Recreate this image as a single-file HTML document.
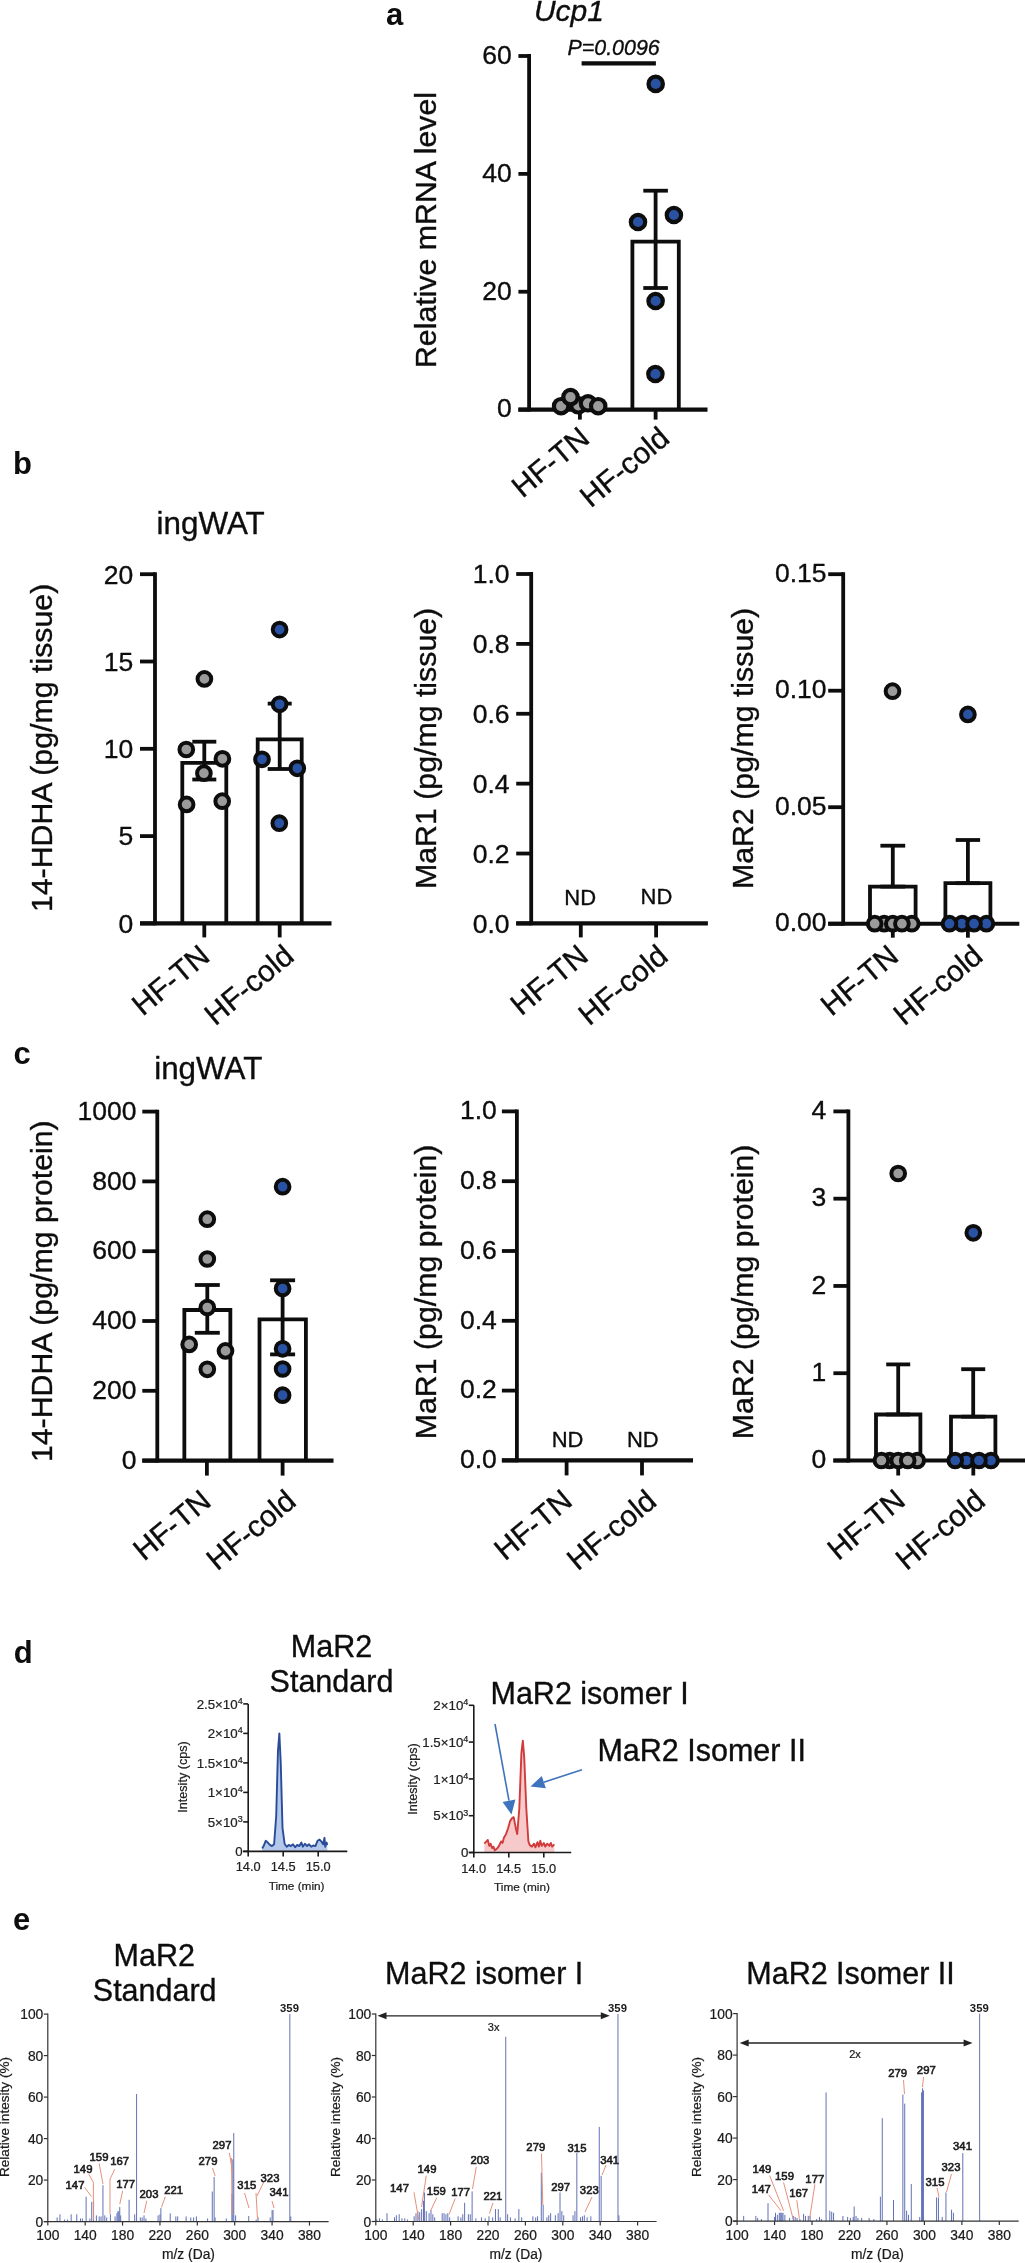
<!DOCTYPE html>
<html><head><meta charset="utf-8"><title>Figure</title>
<style>
html,body{margin:0;padding:0;background:#fff;}
body{width:1025px;height:2263px;overflow:hidden;}
svg{display:block;will-change:transform;}
</style></head><body>
<svg width="1025" height="2263" viewBox="0 0 1025 2263" font-family='"Liberation Sans", sans-serif'>
<rect width="1025" height="2263" fill="#fff"/>
<text x="386" y="25.3" font-size="31" text-anchor="start" font-weight="bold" fill="#0d0d0d">a</text>
<text x="533.9" y="20.8" font-size="30" text-anchor="start" font-style="italic" stroke="#0d0d0d" stroke-width="0.35" fill="#0d0d0d">Ucp1</text>
<text x="567.5" y="54.8" font-size="21.4" text-anchor="start" font-style="italic" stroke="#0d0d0d" stroke-width="0.35" fill="#0d0d0d">P=0.0096</text>
<line x1="581.6" y1="63.3" x2="655.9" y2="63.3" stroke="#0d0d0d" stroke-width="4.2" stroke-linecap="butt"/>
<line x1="529.1" y1="54.1" x2="529.1" y2="411.5" stroke="#0d0d0d" stroke-width="3.8" stroke-linecap="butt"/>
<line x1="518.4" y1="409.6" x2="529.1" y2="409.6" stroke="#0d0d0d" stroke-width="3.8" stroke-linecap="butt"/>
<text x="511.7" y="417.4" font-size="26.5" text-anchor="end" stroke="#0d0d0d" stroke-width="0.35" fill="#0d0d0d">0</text>
<line x1="518.4" y1="291.73" x2="529.1" y2="291.73" stroke="#0d0d0d" stroke-width="3.8" stroke-linecap="butt"/>
<text x="511.7" y="299.53" font-size="26.5" text-anchor="end" stroke="#0d0d0d" stroke-width="0.35" fill="#0d0d0d">20</text>
<line x1="518.4" y1="173.87" x2="529.1" y2="173.87" stroke="#0d0d0d" stroke-width="3.8" stroke-linecap="butt"/>
<text x="511.7" y="181.67" font-size="26.5" text-anchor="end" stroke="#0d0d0d" stroke-width="0.35" fill="#0d0d0d">40</text>
<line x1="518.4" y1="56" x2="529.1" y2="56" stroke="#0d0d0d" stroke-width="3.8" stroke-linecap="butt"/>
<text x="511.7" y="63.8" font-size="26.5" text-anchor="end" stroke="#0d0d0d" stroke-width="0.35" fill="#0d0d0d">60</text>
<line x1="518.4" y1="409.6" x2="707.5" y2="409.6" stroke="#0d0d0d" stroke-width="4.1" stroke-linecap="butt"/>
<line x1="579.9" y1="409.6" x2="579.9" y2="419.6" stroke="#0d0d0d" stroke-width="3.8" stroke-linecap="butt"/>
<line x1="655.6" y1="409.6" x2="655.6" y2="419.6" stroke="#0d0d0d" stroke-width="3.8" stroke-linecap="butt"/>
<path d="M632.4 409.6 V241.6 H678.8 V409.6" fill="none" stroke="#0d0d0d" stroke-width="3.8" stroke-linejoin="miter"/>
<path d="M556.7 409.6 V404.5 H603.1 V409.6" fill="none" stroke="#0d0d0d" stroke-width="3.8" stroke-linejoin="miter"/>
<line x1="655.6" y1="190.7" x2="655.6" y2="288" stroke="#0d0d0d" stroke-width="3.8" stroke-linecap="butt"/>
<line x1="643.3" y1="190.7" x2="667.9" y2="190.7" stroke="#0d0d0d" stroke-width="3.8" stroke-linecap="butt"/>
<line x1="643.3" y1="288" x2="667.9" y2="288" stroke="#0d0d0d" stroke-width="3.8" stroke-linecap="butt"/>
<circle cx="578.3" cy="405.3" r="7.2" fill="#9b9b9b" stroke="#0d0d0d" stroke-width="4.2"/>
<circle cx="561.1" cy="406.2" r="7.2" fill="#9b9b9b" stroke="#0d0d0d" stroke-width="4.2"/>
<circle cx="570.5" cy="397.1" r="7.2" fill="#9b9b9b" stroke="#0d0d0d" stroke-width="4.2"/>
<circle cx="588" cy="403.3" r="7.2" fill="#9b9b9b" stroke="#0d0d0d" stroke-width="4.2"/>
<circle cx="598.2" cy="406.2" r="7.2" fill="#9b9b9b" stroke="#0d0d0d" stroke-width="4.2"/>
<circle cx="655.7" cy="83.9" r="7.2" fill="#2a52a3" stroke="#0d0d0d" stroke-width="4.2"/>
<circle cx="638" cy="222" r="7.2" fill="#2a52a3" stroke="#0d0d0d" stroke-width="4.2"/>
<circle cx="673.9" cy="215" r="7.2" fill="#2a52a3" stroke="#0d0d0d" stroke-width="4.2"/>
<circle cx="655.6" cy="301" r="7.2" fill="#2a52a3" stroke="#0d0d0d" stroke-width="4.2"/>
<circle cx="655.4" cy="374" r="7.2" fill="#2a52a3" stroke="#0d0d0d" stroke-width="4.2"/>
<text x="436.3" y="230" font-size="30.3" text-anchor="middle" stroke="#0d0d0d" stroke-width="0.35" fill="#0d0d0d" transform="rotate(-90 436.3 230)">Relative mRNA level</text>
<text x="591.45" y="440.95" font-size="30" text-anchor="end" stroke="#0d0d0d" stroke-width="0.35" fill="#0d0d0d" transform="rotate(-40 591.45 440.95)">HF-TN</text>
<text x="671.2" y="441.05" font-size="30" text-anchor="end" stroke="#0d0d0d" stroke-width="0.35" fill="#0d0d0d" transform="rotate(-40 671.2 441.05)">HF-cold</text>
<text x="13.1" y="474.1" font-size="31" text-anchor="start" font-weight="bold" fill="#0d0d0d">b</text>
<text x="156.6" y="534.3" font-size="31.4" text-anchor="start" stroke="#0d0d0d" stroke-width="0.35" fill="#0d0d0d">ingWAT</text>
<line x1="155" y1="572.3" x2="155" y2="925.3" stroke="#0d0d0d" stroke-width="3.8" stroke-linecap="butt"/>
<line x1="140" y1="923.4" x2="155" y2="923.4" stroke="#0d0d0d" stroke-width="3.8" stroke-linecap="butt"/>
<text x="133.3" y="932.7" font-size="26.5" text-anchor="end" stroke="#0d0d0d" stroke-width="0.35" fill="#0d0d0d">0</text>
<line x1="140" y1="836.1" x2="155" y2="836.1" stroke="#0d0d0d" stroke-width="3.8" stroke-linecap="butt"/>
<text x="133.3" y="845.4" font-size="26.5" text-anchor="end" stroke="#0d0d0d" stroke-width="0.35" fill="#0d0d0d">5</text>
<line x1="140" y1="748.8" x2="155" y2="748.8" stroke="#0d0d0d" stroke-width="3.8" stroke-linecap="butt"/>
<text x="133.3" y="758.1" font-size="26.5" text-anchor="end" stroke="#0d0d0d" stroke-width="0.35" fill="#0d0d0d">10</text>
<line x1="140" y1="661.5" x2="155" y2="661.5" stroke="#0d0d0d" stroke-width="3.8" stroke-linecap="butt"/>
<text x="133.3" y="670.8" font-size="26.5" text-anchor="end" stroke="#0d0d0d" stroke-width="0.35" fill="#0d0d0d">15</text>
<line x1="140" y1="574.2" x2="155" y2="574.2" stroke="#0d0d0d" stroke-width="3.8" stroke-linecap="butt"/>
<text x="133.3" y="583.5" font-size="26.5" text-anchor="end" stroke="#0d0d0d" stroke-width="0.35" fill="#0d0d0d">20</text>
<line x1="140" y1="923.4" x2="331.5" y2="923.4" stroke="#0d0d0d" stroke-width="4.1" stroke-linecap="butt"/>
<line x1="204.3" y1="923.4" x2="204.3" y2="937.4" stroke="#0d0d0d" stroke-width="3.8" stroke-linecap="butt"/>
<line x1="279.7" y1="923.4" x2="279.7" y2="937.4" stroke="#0d0d0d" stroke-width="3.8" stroke-linecap="butt"/>
<path d="M182.3 923.4 V762.9 H226.3 V923.4" fill="none" stroke="#0d0d0d" stroke-width="3.8" stroke-linejoin="miter"/>
<path d="M257.7 923.4 V739.4 H301.7 V923.4" fill="none" stroke="#0d0d0d" stroke-width="3.8" stroke-linejoin="miter"/>
<line x1="204.3" y1="741.7" x2="204.3" y2="779.5" stroke="#0d0d0d" stroke-width="3.8" stroke-linecap="butt"/>
<line x1="192.3" y1="741.7" x2="216.3" y2="741.7" stroke="#0d0d0d" stroke-width="3.8" stroke-linecap="butt"/>
<line x1="192.3" y1="779.5" x2="216.3" y2="779.5" stroke="#0d0d0d" stroke-width="3.8" stroke-linecap="butt"/>
<line x1="279.7" y1="703.6" x2="279.7" y2="769" stroke="#0d0d0d" stroke-width="3.8" stroke-linecap="butt"/>
<line x1="267.7" y1="703.6" x2="291.7" y2="703.6" stroke="#0d0d0d" stroke-width="3.8" stroke-linecap="butt"/>
<line x1="267.7" y1="769" x2="291.7" y2="769" stroke="#0d0d0d" stroke-width="3.8" stroke-linecap="butt"/>
<circle cx="204.4" cy="678.9" r="6.85" fill="#9b9b9b" stroke="#0d0d0d" stroke-width="4"/>
<circle cx="186.3" cy="749.5" r="6.85" fill="#9b9b9b" stroke="#0d0d0d" stroke-width="4"/>
<circle cx="222.4" cy="758.8" r="6.85" fill="#9b9b9b" stroke="#0d0d0d" stroke-width="4"/>
<circle cx="203.9" cy="773.2" r="6.85" fill="#9b9b9b" stroke="#0d0d0d" stroke-width="4"/>
<circle cx="186.6" cy="804.4" r="6.85" fill="#9b9b9b" stroke="#0d0d0d" stroke-width="4"/>
<circle cx="222.2" cy="801.2" r="6.85" fill="#9b9b9b" stroke="#0d0d0d" stroke-width="4"/>
<circle cx="279.6" cy="629.6" r="6.85" fill="#2a52a3" stroke="#0d0d0d" stroke-width="4"/>
<circle cx="279.6" cy="704.3" r="6.85" fill="#2a52a3" stroke="#0d0d0d" stroke-width="4"/>
<circle cx="262" cy="759.3" r="6.85" fill="#2a52a3" stroke="#0d0d0d" stroke-width="4"/>
<circle cx="297.3" cy="768.3" r="6.85" fill="#2a52a3" stroke="#0d0d0d" stroke-width="4"/>
<circle cx="279.3" cy="823.2" r="6.85" fill="#2a52a3" stroke="#0d0d0d" stroke-width="4"/>
<text x="52.5" y="747.95" font-size="30.3" text-anchor="middle" stroke="#0d0d0d" stroke-width="0.35" fill="#0d0d0d" transform="rotate(-90 52.5 747.95)">14-HDHA (pg/mg tissue)</text>
<text x="211.7" y="959" font-size="30" text-anchor="end" stroke="#0d0d0d" stroke-width="0.35" fill="#0d0d0d" transform="rotate(-40 211.7 959)">HF-TN</text>
<text x="295.75" y="958.95" font-size="30" text-anchor="end" stroke="#0d0d0d" stroke-width="0.35" fill="#0d0d0d" transform="rotate(-40 295.75 958.95)">HF-cold</text>
<line x1="531.2" y1="572.1" x2="531.2" y2="925.3" stroke="#0d0d0d" stroke-width="3.8" stroke-linecap="butt"/>
<line x1="516.2" y1="923.4" x2="531.2" y2="923.4" stroke="#0d0d0d" stroke-width="3.8" stroke-linecap="butt"/>
<text x="509.5" y="932.7" font-size="26.5" text-anchor="end" stroke="#0d0d0d" stroke-width="0.35" fill="#0d0d0d">0.0</text>
<line x1="516.2" y1="853.52" x2="531.2" y2="853.52" stroke="#0d0d0d" stroke-width="3.8" stroke-linecap="butt"/>
<text x="509.5" y="862.82" font-size="26.5" text-anchor="end" stroke="#0d0d0d" stroke-width="0.35" fill="#0d0d0d">0.2</text>
<line x1="516.2" y1="783.64" x2="531.2" y2="783.64" stroke="#0d0d0d" stroke-width="3.8" stroke-linecap="butt"/>
<text x="509.5" y="792.94" font-size="26.5" text-anchor="end" stroke="#0d0d0d" stroke-width="0.35" fill="#0d0d0d">0.4</text>
<line x1="516.2" y1="713.76" x2="531.2" y2="713.76" stroke="#0d0d0d" stroke-width="3.8" stroke-linecap="butt"/>
<text x="509.5" y="723.06" font-size="26.5" text-anchor="end" stroke="#0d0d0d" stroke-width="0.35" fill="#0d0d0d">0.6</text>
<line x1="516.2" y1="643.88" x2="531.2" y2="643.88" stroke="#0d0d0d" stroke-width="3.8" stroke-linecap="butt"/>
<text x="509.5" y="653.18" font-size="26.5" text-anchor="end" stroke="#0d0d0d" stroke-width="0.35" fill="#0d0d0d">0.8</text>
<line x1="516.2" y1="574" x2="531.2" y2="574" stroke="#0d0d0d" stroke-width="3.8" stroke-linecap="butt"/>
<text x="509.5" y="583.3" font-size="26.5" text-anchor="end" stroke="#0d0d0d" stroke-width="0.35" fill="#0d0d0d">1.0</text>
<line x1="516.2" y1="923.4" x2="707.9" y2="923.4" stroke="#0d0d0d" stroke-width="4.1" stroke-linecap="butt"/>
<line x1="580.8" y1="923.4" x2="580.8" y2="937.4" stroke="#0d0d0d" stroke-width="3.8" stroke-linecap="butt"/>
<line x1="656.1" y1="923.4" x2="656.1" y2="937.4" stroke="#0d0d0d" stroke-width="3.8" stroke-linecap="butt"/>
<text x="580.2" y="904.5" font-size="22" text-anchor="middle" stroke="#0d0d0d" stroke-width="0.35" fill="#0d0d0d">ND</text>
<text x="656.5" y="904" font-size="22" text-anchor="middle" stroke="#0d0d0d" stroke-width="0.35" fill="#0d0d0d">ND</text>
<text x="436" y="748.4" font-size="30.3" text-anchor="middle" stroke="#0d0d0d" stroke-width="0.35" fill="#0d0d0d" transform="rotate(-90 436 748.4)">MaR1 (pg/mg tissue)</text>
<text x="590.1" y="958.75" font-size="30" text-anchor="end" stroke="#0d0d0d" stroke-width="0.35" fill="#0d0d0d" transform="rotate(-40 590.1 958.75)">HF-TN</text>
<text x="669.75" y="958.95" font-size="30" text-anchor="end" stroke="#0d0d0d" stroke-width="0.35" fill="#0d0d0d" transform="rotate(-40 669.75 958.95)">HF-cold</text>
<line x1="843.2" y1="572.3" x2="843.2" y2="925.6" stroke="#0d0d0d" stroke-width="3.8" stroke-linecap="butt"/>
<line x1="828.2" y1="923.7" x2="843.2" y2="923.7" stroke="#0d0d0d" stroke-width="3.8" stroke-linecap="butt"/>
<text x="826.6" y="931" font-size="26.5" text-anchor="end" stroke="#0d0d0d" stroke-width="0.35" fill="#0d0d0d">0.00</text>
<line x1="828.2" y1="807.2" x2="843.2" y2="807.2" stroke="#0d0d0d" stroke-width="3.8" stroke-linecap="butt"/>
<text x="826.6" y="814.5" font-size="26.5" text-anchor="end" stroke="#0d0d0d" stroke-width="0.35" fill="#0d0d0d">0.05</text>
<line x1="828.2" y1="690.7" x2="843.2" y2="690.7" stroke="#0d0d0d" stroke-width="3.8" stroke-linecap="butt"/>
<text x="826.6" y="698" font-size="26.5" text-anchor="end" stroke="#0d0d0d" stroke-width="0.35" fill="#0d0d0d">0.10</text>
<line x1="828.2" y1="574.2" x2="843.2" y2="574.2" stroke="#0d0d0d" stroke-width="3.8" stroke-linecap="butt"/>
<text x="826.6" y="581.5" font-size="26.5" text-anchor="end" stroke="#0d0d0d" stroke-width="0.35" fill="#0d0d0d">0.15</text>
<line x1="828.2" y1="923.7" x2="1019.3" y2="923.7" stroke="#0d0d0d" stroke-width="4.1" stroke-linecap="butt"/>
<line x1="892.8" y1="923.7" x2="892.8" y2="937.7" stroke="#0d0d0d" stroke-width="3.8" stroke-linecap="butt"/>
<line x1="967.9" y1="923.7" x2="967.9" y2="937.7" stroke="#0d0d0d" stroke-width="3.8" stroke-linecap="butt"/>
<path d="M870 923.7 V886.6 H915.6 V923.7" fill="none" stroke="#0d0d0d" stroke-width="3.8" stroke-linejoin="miter"/>
<path d="M945.4 923.7 V883.2 H990.4 V923.7" fill="none" stroke="#0d0d0d" stroke-width="3.8" stroke-linejoin="miter"/>
<line x1="892.8" y1="845.7" x2="892.8" y2="886.6" stroke="#0d0d0d" stroke-width="3.8" stroke-linecap="butt"/>
<line x1="880.4" y1="845.7" x2="905.2" y2="845.7" stroke="#0d0d0d" stroke-width="3.8" stroke-linecap="butt"/>
<line x1="880.4" y1="886.6" x2="905.2" y2="886.6" stroke="#0d0d0d" stroke-width="3.8" stroke-linecap="butt"/>
<line x1="967.9" y1="840" x2="967.9" y2="883.2" stroke="#0d0d0d" stroke-width="3.8" stroke-linecap="butt"/>
<line x1="955.7" y1="840" x2="980.1" y2="840" stroke="#0d0d0d" stroke-width="3.8" stroke-linecap="butt"/>
<line x1="955.7" y1="883.2" x2="980.1" y2="883.2" stroke="#0d0d0d" stroke-width="3.8" stroke-linecap="butt"/>
<circle cx="884.2" cy="923.7" r="6.85" fill="#9b9b9b" stroke="#0d0d0d" stroke-width="4"/>
<circle cx="911.8" cy="923.7" r="6.85" fill="#9b9b9b" stroke="#0d0d0d" stroke-width="4"/>
<circle cx="892.8" cy="923.7" r="6.85" fill="#9b9b9b" stroke="#0d0d0d" stroke-width="4"/>
<circle cx="874.7" cy="923.7" r="6.85" fill="#9b9b9b" stroke="#0d0d0d" stroke-width="4"/>
<circle cx="901.9" cy="923.7" r="6.85" fill="#9b9b9b" stroke="#0d0d0d" stroke-width="4"/>
<circle cx="892.5" cy="691.2" r="6.85" fill="#9b9b9b" stroke="#0d0d0d" stroke-width="4"/>
<circle cx="961.9" cy="923.7" r="6.85" fill="#2a52a3" stroke="#0d0d0d" stroke-width="4"/>
<circle cx="986.4" cy="923.7" r="6.85" fill="#2a52a3" stroke="#0d0d0d" stroke-width="4"/>
<circle cx="949.5" cy="923.7" r="6.85" fill="#2a52a3" stroke="#0d0d0d" stroke-width="4"/>
<circle cx="974" cy="923.7" r="6.85" fill="#2a52a3" stroke="#0d0d0d" stroke-width="4"/>
<circle cx="967.9" cy="714.4" r="6.85" fill="#2a52a3" stroke="#0d0d0d" stroke-width="4"/>
<text x="752.8" y="748.4" font-size="30.3" text-anchor="middle" stroke="#0d0d0d" stroke-width="0.35" fill="#0d0d0d" transform="rotate(-90 752.8 748.4)">MaR2 (pg/mg tissue)</text>
<text x="900.4" y="959.05" font-size="30" text-anchor="end" stroke="#0d0d0d" stroke-width="0.35" fill="#0d0d0d" transform="rotate(-40 900.4 959.05)">HF-TN</text>
<text x="984.6" y="959.1" font-size="30" text-anchor="end" stroke="#0d0d0d" stroke-width="0.35" fill="#0d0d0d" transform="rotate(-40 984.6 959.1)">HF-cold</text>
<text x="13.6" y="1063.6" font-size="31" text-anchor="start" font-weight="bold" fill="#0d0d0d">c</text>
<text x="154.2" y="1079.3" font-size="31.4" text-anchor="start" stroke="#0d0d0d" stroke-width="0.35" fill="#0d0d0d">ingWAT</text>
<line x1="157.3" y1="1109.7" x2="157.3" y2="1462.5" stroke="#0d0d0d" stroke-width="3.8" stroke-linecap="butt"/>
<line x1="142.3" y1="1460.6" x2="157.3" y2="1460.6" stroke="#0d0d0d" stroke-width="3.8" stroke-linecap="butt"/>
<text x="136.4" y="1468.8" font-size="26.5" text-anchor="end" stroke="#0d0d0d" stroke-width="0.35" fill="#0d0d0d">0</text>
<line x1="142.3" y1="1390.8" x2="157.3" y2="1390.8" stroke="#0d0d0d" stroke-width="3.8" stroke-linecap="butt"/>
<text x="136.4" y="1399" font-size="26.5" text-anchor="end" stroke="#0d0d0d" stroke-width="0.35" fill="#0d0d0d">200</text>
<line x1="142.3" y1="1321" x2="157.3" y2="1321" stroke="#0d0d0d" stroke-width="3.8" stroke-linecap="butt"/>
<text x="136.4" y="1329.2" font-size="26.5" text-anchor="end" stroke="#0d0d0d" stroke-width="0.35" fill="#0d0d0d">400</text>
<line x1="142.3" y1="1251.2" x2="157.3" y2="1251.2" stroke="#0d0d0d" stroke-width="3.8" stroke-linecap="butt"/>
<text x="136.4" y="1259.4" font-size="26.5" text-anchor="end" stroke="#0d0d0d" stroke-width="0.35" fill="#0d0d0d">600</text>
<line x1="142.3" y1="1181.4" x2="157.3" y2="1181.4" stroke="#0d0d0d" stroke-width="3.8" stroke-linecap="butt"/>
<text x="136.4" y="1189.6" font-size="26.5" text-anchor="end" stroke="#0d0d0d" stroke-width="0.35" fill="#0d0d0d">800</text>
<line x1="142.3" y1="1111.6" x2="157.3" y2="1111.6" stroke="#0d0d0d" stroke-width="3.8" stroke-linecap="butt"/>
<text x="136.4" y="1119.8" font-size="26.5" text-anchor="end" stroke="#0d0d0d" stroke-width="0.35" fill="#0d0d0d">1000</text>
<line x1="142.3" y1="1460.6" x2="333.5" y2="1460.6" stroke="#0d0d0d" stroke-width="4.1" stroke-linecap="butt"/>
<line x1="206.9" y1="1460.6" x2="206.9" y2="1475.6" stroke="#0d0d0d" stroke-width="3.8" stroke-linecap="butt"/>
<line x1="282.6" y1="1460.6" x2="282.6" y2="1475.6" stroke="#0d0d0d" stroke-width="3.8" stroke-linecap="butt"/>
<path d="M184.35 1460.6 V1310 H230.35 V1460.6" fill="none" stroke="#0d0d0d" stroke-width="3.8" stroke-linejoin="miter"/>
<path d="M259.5 1460.6 V1319.3 H305.9 V1460.6" fill="none" stroke="#0d0d0d" stroke-width="3.8" stroke-linejoin="miter"/>
<line x1="207.3" y1="1285" x2="207.3" y2="1332.8" stroke="#0d0d0d" stroke-width="3.8" stroke-linecap="butt"/>
<line x1="194.8" y1="1285" x2="219.8" y2="1285" stroke="#0d0d0d" stroke-width="3.8" stroke-linecap="butt"/>
<line x1="194.8" y1="1332.8" x2="219.8" y2="1332.8" stroke="#0d0d0d" stroke-width="3.8" stroke-linecap="butt"/>
<line x1="282.6" y1="1280.3" x2="282.6" y2="1354.4" stroke="#0d0d0d" stroke-width="3.8" stroke-linecap="butt"/>
<line x1="270.1" y1="1280.3" x2="295.1" y2="1280.3" stroke="#0d0d0d" stroke-width="3.8" stroke-linecap="butt"/>
<line x1="270.1" y1="1354.4" x2="295.1" y2="1354.4" stroke="#0d0d0d" stroke-width="3.8" stroke-linecap="butt"/>
<circle cx="207.3" cy="1219.2" r="6.85" fill="#9b9b9b" stroke="#0d0d0d" stroke-width="4"/>
<circle cx="207.3" cy="1259" r="6.85" fill="#9b9b9b" stroke="#0d0d0d" stroke-width="4"/>
<circle cx="207.3" cy="1307.5" r="6.85" fill="#9b9b9b" stroke="#0d0d0d" stroke-width="4"/>
<circle cx="189.2" cy="1344.4" r="6.85" fill="#9b9b9b" stroke="#0d0d0d" stroke-width="4"/>
<circle cx="225.5" cy="1350.9" r="6.85" fill="#9b9b9b" stroke="#0d0d0d" stroke-width="4"/>
<circle cx="207.3" cy="1369.3" r="6.85" fill="#9b9b9b" stroke="#0d0d0d" stroke-width="4"/>
<circle cx="282.6" cy="1186.7" r="6.85" fill="#2a52a3" stroke="#0d0d0d" stroke-width="4"/>
<circle cx="282.6" cy="1288.5" r="6.85" fill="#2a52a3" stroke="#0d0d0d" stroke-width="4"/>
<circle cx="282.6" cy="1348.8" r="6.85" fill="#2a52a3" stroke="#0d0d0d" stroke-width="4"/>
<circle cx="282.6" cy="1369" r="6.85" fill="#2a52a3" stroke="#0d0d0d" stroke-width="4"/>
<circle cx="282.6" cy="1395.2" r="6.85" fill="#2a52a3" stroke="#0d0d0d" stroke-width="4"/>
<text x="52.2" y="1291.2" font-size="30.3" text-anchor="middle" stroke="#0d0d0d" stroke-width="0.35" fill="#0d0d0d" transform="rotate(-90 52.2 1291.2)">14-HDHA (pg/mg protein)</text>
<text x="212.9" y="1504" font-size="30" text-anchor="end" stroke="#0d0d0d" stroke-width="0.35" fill="#0d0d0d" transform="rotate(-40 212.9 1504)">HF-TN</text>
<text x="297.75" y="1504.05" font-size="30" text-anchor="end" stroke="#0d0d0d" stroke-width="0.35" fill="#0d0d0d" transform="rotate(-40 297.75 1504.05)">HF-cold</text>
<line x1="516.9" y1="1109.5" x2="516.9" y2="1462.3" stroke="#0d0d0d" stroke-width="3.8" stroke-linecap="butt"/>
<line x1="501.9" y1="1460.4" x2="516.9" y2="1460.4" stroke="#0d0d0d" stroke-width="3.8" stroke-linecap="butt"/>
<text x="496.8" y="1468.2" font-size="26.5" text-anchor="end" stroke="#0d0d0d" stroke-width="0.35" fill="#0d0d0d">0.0</text>
<line x1="501.9" y1="1390.6" x2="516.9" y2="1390.6" stroke="#0d0d0d" stroke-width="3.8" stroke-linecap="butt"/>
<text x="496.8" y="1398.4" font-size="26.5" text-anchor="end" stroke="#0d0d0d" stroke-width="0.35" fill="#0d0d0d">0.2</text>
<line x1="501.9" y1="1320.8" x2="516.9" y2="1320.8" stroke="#0d0d0d" stroke-width="3.8" stroke-linecap="butt"/>
<text x="496.8" y="1328.6" font-size="26.5" text-anchor="end" stroke="#0d0d0d" stroke-width="0.35" fill="#0d0d0d">0.4</text>
<line x1="501.9" y1="1251" x2="516.9" y2="1251" stroke="#0d0d0d" stroke-width="3.8" stroke-linecap="butt"/>
<text x="496.8" y="1258.8" font-size="26.5" text-anchor="end" stroke="#0d0d0d" stroke-width="0.35" fill="#0d0d0d">0.6</text>
<line x1="501.9" y1="1181.2" x2="516.9" y2="1181.2" stroke="#0d0d0d" stroke-width="3.8" stroke-linecap="butt"/>
<text x="496.8" y="1189" font-size="26.5" text-anchor="end" stroke="#0d0d0d" stroke-width="0.35" fill="#0d0d0d">0.8</text>
<line x1="501.9" y1="1111.4" x2="516.9" y2="1111.4" stroke="#0d0d0d" stroke-width="3.8" stroke-linecap="butt"/>
<text x="496.8" y="1119.2" font-size="26.5" text-anchor="end" stroke="#0d0d0d" stroke-width="0.35" fill="#0d0d0d">1.0</text>
<line x1="501.9" y1="1460.4" x2="693" y2="1460.4" stroke="#0d0d0d" stroke-width="4.1" stroke-linecap="butt"/>
<line x1="566.6" y1="1460.4" x2="566.6" y2="1475.4" stroke="#0d0d0d" stroke-width="3.8" stroke-linecap="butt"/>
<line x1="642" y1="1460.4" x2="642" y2="1475.4" stroke="#0d0d0d" stroke-width="3.8" stroke-linecap="butt"/>
<text x="567.6" y="1447.2" font-size="22" text-anchor="middle" stroke="#0d0d0d" stroke-width="0.35" fill="#0d0d0d">ND</text>
<text x="642.8" y="1446.8" font-size="22" text-anchor="middle" stroke="#0d0d0d" stroke-width="0.35" fill="#0d0d0d">ND</text>
<text x="436" y="1291.9" font-size="30.3" text-anchor="middle" stroke="#0d0d0d" stroke-width="0.35" fill="#0d0d0d" transform="rotate(-90 436 1291.9)">MaR1 (pg/mg protein)</text>
<text x="574" y="1503.6" font-size="30" text-anchor="end" stroke="#0d0d0d" stroke-width="0.35" fill="#0d0d0d" transform="rotate(-40 574 1503.6)">HF-TN</text>
<text x="658.2" y="1503.9" font-size="30" text-anchor="end" stroke="#0d0d0d" stroke-width="0.35" fill="#0d0d0d" transform="rotate(-40 658.2 1503.9)">HF-cold</text>
<line x1="848.4" y1="1109.5" x2="848.4" y2="1462.4" stroke="#0d0d0d" stroke-width="3.8" stroke-linecap="butt"/>
<line x1="833.4" y1="1460.5" x2="848.4" y2="1460.5" stroke="#0d0d0d" stroke-width="3.8" stroke-linecap="butt"/>
<text x="826.3" y="1468.3" font-size="26.5" text-anchor="end" stroke="#0d0d0d" stroke-width="0.35" fill="#0d0d0d">0</text>
<line x1="833.4" y1="1373.22" x2="848.4" y2="1373.22" stroke="#0d0d0d" stroke-width="3.8" stroke-linecap="butt"/>
<text x="826.3" y="1381.02" font-size="26.5" text-anchor="end" stroke="#0d0d0d" stroke-width="0.35" fill="#0d0d0d">1</text>
<line x1="833.4" y1="1285.95" x2="848.4" y2="1285.95" stroke="#0d0d0d" stroke-width="3.8" stroke-linecap="butt"/>
<text x="826.3" y="1293.75" font-size="26.5" text-anchor="end" stroke="#0d0d0d" stroke-width="0.35" fill="#0d0d0d">2</text>
<line x1="833.4" y1="1198.68" x2="848.4" y2="1198.68" stroke="#0d0d0d" stroke-width="3.8" stroke-linecap="butt"/>
<text x="826.3" y="1206.48" font-size="26.5" text-anchor="end" stroke="#0d0d0d" stroke-width="0.35" fill="#0d0d0d">3</text>
<line x1="833.4" y1="1111.4" x2="848.4" y2="1111.4" stroke="#0d0d0d" stroke-width="3.8" stroke-linecap="butt"/>
<text x="826.3" y="1119.2" font-size="26.5" text-anchor="end" stroke="#0d0d0d" stroke-width="0.35" fill="#0d0d0d">4</text>
<line x1="833.4" y1="1460.5" x2="1025" y2="1460.5" stroke="#0d0d0d" stroke-width="4.1" stroke-linecap="butt"/>
<line x1="898.2" y1="1460.5" x2="898.2" y2="1475.5" stroke="#0d0d0d" stroke-width="3.8" stroke-linecap="butt"/>
<line x1="973.3" y1="1460.5" x2="973.3" y2="1475.5" stroke="#0d0d0d" stroke-width="3.8" stroke-linecap="butt"/>
<path d="M876 1460.5 V1414.5 H920.4 V1460.5" fill="none" stroke="#0d0d0d" stroke-width="3.8" stroke-linejoin="miter"/>
<path d="M951 1460.5 V1416.7 H995.4 V1460.5" fill="none" stroke="#0d0d0d" stroke-width="3.8" stroke-linejoin="miter"/>
<line x1="898.2" y1="1364.4" x2="898.2" y2="1414.5" stroke="#0d0d0d" stroke-width="3.8" stroke-linecap="butt"/>
<line x1="886.2" y1="1364.4" x2="910.2" y2="1364.4" stroke="#0d0d0d" stroke-width="3.8" stroke-linecap="butt"/>
<line x1="886.2" y1="1414.5" x2="910.2" y2="1414.5" stroke="#0d0d0d" stroke-width="3.8" stroke-linecap="butt"/>
<line x1="973.2" y1="1369.2" x2="973.2" y2="1416.7" stroke="#0d0d0d" stroke-width="3.8" stroke-linecap="butt"/>
<line x1="961.2" y1="1369.2" x2="985.2" y2="1369.2" stroke="#0d0d0d" stroke-width="3.8" stroke-linecap="butt"/>
<line x1="961.2" y1="1416.7" x2="985.2" y2="1416.7" stroke="#0d0d0d" stroke-width="3.8" stroke-linecap="butt"/>
<circle cx="889.6" cy="1460.5" r="6.85" fill="#9b9b9b" stroke="#0d0d0d" stroke-width="4"/>
<circle cx="917.2" cy="1460.5" r="6.85" fill="#9b9b9b" stroke="#0d0d0d" stroke-width="4"/>
<circle cx="898.2" cy="1460.5" r="6.85" fill="#9b9b9b" stroke="#0d0d0d" stroke-width="4"/>
<circle cx="881.4" cy="1460.5" r="6.85" fill="#9b9b9b" stroke="#0d0d0d" stroke-width="4"/>
<circle cx="907.7" cy="1460.5" r="6.85" fill="#9b9b9b" stroke="#0d0d0d" stroke-width="4"/>
<circle cx="898.2" cy="1173.5" r="6.85" fill="#9b9b9b" stroke="#0d0d0d" stroke-width="4"/>
<circle cx="966.3" cy="1460.5" r="6.85" fill="#2a52a3" stroke="#0d0d0d" stroke-width="4"/>
<circle cx="991" cy="1460.5" r="6.85" fill="#2a52a3" stroke="#0d0d0d" stroke-width="4"/>
<circle cx="955.2" cy="1460.5" r="6.85" fill="#2a52a3" stroke="#0d0d0d" stroke-width="4"/>
<circle cx="979" cy="1460.5" r="6.85" fill="#2a52a3" stroke="#0d0d0d" stroke-width="4"/>
<circle cx="973.3" cy="1232.8" r="6.85" fill="#2a52a3" stroke="#0d0d0d" stroke-width="4"/>
<text x="752.8" y="1291.9" font-size="30.3" text-anchor="middle" stroke="#0d0d0d" stroke-width="0.35" fill="#0d0d0d" transform="rotate(-90 752.8 1291.9)">MaR2 (pg/mg protein)</text>
<text x="907.1" y="1503.3" font-size="30" text-anchor="end" stroke="#0d0d0d" stroke-width="0.35" fill="#0d0d0d" transform="rotate(-40 907.1 1503.3)">HF-TN</text>
<text x="986.95" y="1503.7" font-size="30" text-anchor="end" stroke="#0d0d0d" stroke-width="0.35" fill="#0d0d0d" transform="rotate(-40 986.95 1503.7)">HF-cold</text>
<text x="13.7" y="1662.5" font-size="31" text-anchor="start" font-weight="bold" fill="#0d0d0d">d</text>
<text x="331.5" y="1656.9" font-size="30.5" text-anchor="middle" stroke="#0d0d0d" stroke-width="0.35" fill="#0d0d0d">MaR2</text>
<text x="331.5" y="1691.7" font-size="30.5" text-anchor="middle" stroke="#0d0d0d" stroke-width="0.35" fill="#0d0d0d">Standard</text>
<text x="490.5" y="1704" font-size="30.5" text-anchor="start" stroke="#0d0d0d" stroke-width="0.35" fill="#0d0d0d">MaR2 isomer I</text>
<text x="597.4" y="1760.7" font-size="30.5" text-anchor="start" stroke="#0d0d0d" stroke-width="0.35" fill="#0d0d0d">MaR2 Isomer II</text>
<path d="M262.2 1848.45 L263.6 1846.09 L265.7 1840.78 L267.8 1842.55 L269.9 1844.91 L272 1846.09 L274.1 1844.32 L276.2 1816 L277.95 1751.1 L279.35 1733.4 L280.75 1762.9 L282.5 1827.8 L284.6 1843.73 L286.7 1846.68 L288.8 1844.91 L290.9 1846.09 L293 1844.32 L295.1 1847.27 L297.2 1844.91 L299.3 1846.09 L301.4 1842.55 L302.8 1846.68 L304.9 1843.73 L307 1846.09 L309.1 1844.32 L311.2 1846.68 L313.3 1845.5 L315.4 1846.09 L317.5 1840.78 L319.6 1839.6 L321.7 1841.96 L323.1 1844.32 L324.5 1837.83 L325.2 1846.68 L326.6 1842.55 L327.3 1844.91 L327.3 1851.4 L262.2 1851.4 Z" fill="#b4c8ec" stroke="none"/>
<path d="M262.2 1848.45 L263.6 1846.09 L265.7 1840.78 L267.8 1842.55 L269.9 1844.91 L272 1846.09 L274.1 1844.32 L276.2 1816 L277.95 1751.1 L279.35 1733.4 L280.75 1762.9 L282.5 1827.8 L284.6 1843.73 L286.7 1846.68 L288.8 1844.91 L290.9 1846.09 L293 1844.32 L295.1 1847.27 L297.2 1844.91 L299.3 1846.09 L301.4 1842.55 L302.8 1846.68 L304.9 1843.73 L307 1846.09 L309.1 1844.32 L311.2 1846.68 L313.3 1845.5 L315.4 1846.09 L317.5 1840.78 L319.6 1839.6 L321.7 1841.96 L323.1 1844.32 L324.5 1837.83 L325.2 1846.68 L326.6 1842.55 L327.3 1844.91" fill="none" stroke="#2a4c98" stroke-width="1.9" stroke-linejoin="round"/>
<line x1="248.2" y1="1703.9" x2="248.2" y2="1852.2" stroke="#1a1a1a" stroke-width="1.6" stroke-linecap="butt"/>
<line x1="243.2" y1="1851.4" x2="248.2" y2="1851.4" stroke="#1a1a1a" stroke-width="1.6" stroke-linecap="butt"/>
<text x="242.7" y="1856" font-size="13.3" text-anchor="end" fill="#222" stroke="#222" stroke-width="0.22">0</text>
<line x1="243.2" y1="1821.9" x2="248.2" y2="1821.9" stroke="#1a1a1a" stroke-width="1.6" stroke-linecap="butt"/>
<text x="242.7" y="1826.5" font-size="13.3" text-anchor="end" fill="#222" stroke="#222" stroke-width="0.22">5×10<tspan dy="-4.8" font-size="9">3</tspan></text>
<line x1="243.2" y1="1792.4" x2="248.2" y2="1792.4" stroke="#1a1a1a" stroke-width="1.6" stroke-linecap="butt"/>
<text x="242.7" y="1797" font-size="13.3" text-anchor="end" fill="#222" stroke="#222" stroke-width="0.22">1×10<tspan dy="-4.8" font-size="9">4</tspan></text>
<line x1="243.2" y1="1762.9" x2="248.2" y2="1762.9" stroke="#1a1a1a" stroke-width="1.6" stroke-linecap="butt"/>
<text x="242.7" y="1767.5" font-size="13.3" text-anchor="end" fill="#222" stroke="#222" stroke-width="0.22">1.5×10<tspan dy="-4.8" font-size="9">4</tspan></text>
<line x1="243.2" y1="1733.4" x2="248.2" y2="1733.4" stroke="#1a1a1a" stroke-width="1.6" stroke-linecap="butt"/>
<text x="242.7" y="1738" font-size="13.3" text-anchor="end" fill="#222" stroke="#222" stroke-width="0.22">2×10<tspan dy="-4.8" font-size="9">4</tspan></text>
<line x1="243.2" y1="1703.9" x2="248.2" y2="1703.9" stroke="#1a1a1a" stroke-width="1.6" stroke-linecap="butt"/>
<text x="242.7" y="1708.5" font-size="13.3" text-anchor="end" fill="#222" stroke="#222" stroke-width="0.22">2.5×10<tspan dy="-4.8" font-size="9">4</tspan></text>
<line x1="243.2" y1="1851.4" x2="347.3" y2="1851.4" stroke="#1a1a1a" stroke-width="1.6" stroke-linecap="butt"/>
<line x1="248.2" y1="1851.4" x2="248.2" y2="1856.4" stroke="#1a1a1a" stroke-width="1.6" stroke-linecap="butt"/>
<text x="248.2" y="1871.4" font-size="12.8" text-anchor="middle" fill="#222" stroke="#222" stroke-width="0.22">14.0</text>
<line x1="283.2" y1="1851.4" x2="283.2" y2="1856.4" stroke="#1a1a1a" stroke-width="1.6" stroke-linecap="butt"/>
<text x="283.2" y="1871.4" font-size="12.8" text-anchor="middle" fill="#222" stroke="#222" stroke-width="0.22">14.5</text>
<line x1="318.2" y1="1851.4" x2="318.2" y2="1856.4" stroke="#1a1a1a" stroke-width="1.6" stroke-linecap="butt"/>
<text x="318.2" y="1871.4" font-size="12.8" text-anchor="middle" fill="#222" stroke="#222" stroke-width="0.22">15.0</text>
<text x="187" y="1777" font-size="12.6" text-anchor="middle" fill="#222" stroke="#222" stroke-width="0.22" transform="rotate(-90 187 1777)">Intesity (cps)</text>
<text x="296.6" y="1889.5" font-size="11.8" text-anchor="middle" fill="#222" stroke="#222" stroke-width="0.22">Time (min)</text>
<path d="M484.3 1843.67 L486.4 1841.46 L487.8 1839.99 L489.2 1845.88 L490.6 1843.67 L492 1848.08 L493.4 1846.61 L494.8 1850.29 L496.9 1848.82 L499 1845.88 L501.1 1841.46 L502.5 1842.93 L503.9 1837.78 L506 1834.1 L508.1 1828.21 L510.2 1820.85 L512.3 1817.91 L513.7 1817.17 L515.8 1828.21 L517.2 1834.1 L519.3 1808.34 L521.4 1753.14 L522.8 1740.63 L524.2 1756.82 L526.3 1808.34 L528.4 1841.46 L529.8 1845.14 L531.9 1846.61 L534 1843.67 L535.4 1847.35 L537.5 1842.2 L538.9 1846.61 L540.3 1840.72 L541.7 1845.88 L543.8 1842.93 L545.2 1846.61 L547.3 1843.67 L549.4 1845.88 L550.8 1842.93 L552.2 1846.61 L554.3 1844.4 L554.3 1852.5 L484.3 1852.5 Z" fill="#f6caca" stroke="none"/>
<path d="M484.3 1843.67 L486.4 1841.46 L487.8 1839.99 L489.2 1845.88 L490.6 1843.67 L492 1848.08 L493.4 1846.61 L494.8 1850.29 L496.9 1848.82 L499 1845.88 L501.1 1841.46 L502.5 1842.93 L503.9 1837.78 L506 1834.1 L508.1 1828.21 L510.2 1820.85 L512.3 1817.91 L513.7 1817.17 L515.8 1828.21 L517.2 1834.1 L519.3 1808.34 L521.4 1753.14 L522.8 1740.63 L524.2 1756.82 L526.3 1808.34 L528.4 1841.46 L529.8 1845.14 L531.9 1846.61 L534 1843.67 L535.4 1847.35 L537.5 1842.2 L538.9 1846.61 L540.3 1840.72 L541.7 1845.88 L543.8 1842.93 L545.2 1846.61 L547.3 1843.67 L549.4 1845.88 L550.8 1842.93 L552.2 1846.61 L554.3 1844.4" fill="none" stroke="#d23b3b" stroke-width="1.9" stroke-linejoin="round"/>
<line x1="473.8" y1="1705.3" x2="473.8" y2="1853.3" stroke="#1a1a1a" stroke-width="1.6" stroke-linecap="butt"/>
<line x1="468.8" y1="1852.5" x2="473.8" y2="1852.5" stroke="#1a1a1a" stroke-width="1.6" stroke-linecap="butt"/>
<text x="468.3" y="1857.1" font-size="13.3" text-anchor="end" fill="#222" stroke="#222" stroke-width="0.22">0</text>
<line x1="468.8" y1="1815.7" x2="473.8" y2="1815.7" stroke="#1a1a1a" stroke-width="1.6" stroke-linecap="butt"/>
<text x="468.3" y="1820.3" font-size="13.3" text-anchor="end" fill="#222" stroke="#222" stroke-width="0.22">5×10<tspan dy="-4.8" font-size="9">3</tspan></text>
<line x1="468.8" y1="1778.9" x2="473.8" y2="1778.9" stroke="#1a1a1a" stroke-width="1.6" stroke-linecap="butt"/>
<text x="468.3" y="1783.5" font-size="13.3" text-anchor="end" fill="#222" stroke="#222" stroke-width="0.22">1×10<tspan dy="-4.8" font-size="9">4</tspan></text>
<line x1="468.8" y1="1742.1" x2="473.8" y2="1742.1" stroke="#1a1a1a" stroke-width="1.6" stroke-linecap="butt"/>
<text x="468.3" y="1746.7" font-size="13.3" text-anchor="end" fill="#222" stroke="#222" stroke-width="0.22">1.5×10<tspan dy="-4.8" font-size="9">4</tspan></text>
<line x1="468.8" y1="1705.3" x2="473.8" y2="1705.3" stroke="#1a1a1a" stroke-width="1.6" stroke-linecap="butt"/>
<text x="468.3" y="1709.9" font-size="13.3" text-anchor="end" fill="#222" stroke="#222" stroke-width="0.22">2×10<tspan dy="-4.8" font-size="9">4</tspan></text>
<line x1="468.8" y1="1852.5" x2="571.2" y2="1852.5" stroke="#1a1a1a" stroke-width="1.6" stroke-linecap="butt"/>
<line x1="473.8" y1="1852.5" x2="473.8" y2="1857.5" stroke="#1a1a1a" stroke-width="1.6" stroke-linecap="butt"/>
<text x="473.8" y="1872.5" font-size="12.8" text-anchor="middle" fill="#222" stroke="#222" stroke-width="0.22">14.0</text>
<line x1="508.8" y1="1852.5" x2="508.8" y2="1857.5" stroke="#1a1a1a" stroke-width="1.6" stroke-linecap="butt"/>
<text x="508.8" y="1872.5" font-size="12.8" text-anchor="middle" fill="#222" stroke="#222" stroke-width="0.22">14.5</text>
<line x1="543.8" y1="1852.5" x2="543.8" y2="1857.5" stroke="#1a1a1a" stroke-width="1.6" stroke-linecap="butt"/>
<text x="543.8" y="1872.5" font-size="12.8" text-anchor="middle" fill="#222" stroke="#222" stroke-width="0.22">15.0</text>
<text x="416.5" y="1779" font-size="12.6" text-anchor="middle" fill="#222" stroke="#222" stroke-width="0.22" transform="rotate(-90 416.5 1779)">Intesity (cps)</text>
<text x="522" y="1890.5" font-size="11.8" text-anchor="middle" fill="#222" stroke="#222" stroke-width="0.22">Time (min)</text>
<line x1="495" y1="1724" x2="508.99" y2="1800.73" stroke="#3f73bd" stroke-width="1.6" stroke-linecap="butt"/>
<path d="M511.5 1814.5 L502.59 1801.89 L515.38 1799.56 Z" fill="#3f73bd"/>
<line x1="582" y1="1769.8" x2="543.82" y2="1782.18" stroke="#3f73bd" stroke-width="1.6" stroke-linecap="butt"/>
<path d="M530.5 1786.5 L541.81 1776 L545.82 1788.36 Z" fill="#3f73bd"/>
<text x="13.1" y="1930.4" font-size="31" text-anchor="start" font-weight="bold" fill="#0d0d0d">e</text>
<text x="154.2" y="1966.3" font-size="30.5" text-anchor="middle" stroke="#0d0d0d" stroke-width="0.35" fill="#0d0d0d">MaR2</text>
<text x="154.7" y="2001.2" font-size="30.5" text-anchor="middle" stroke="#0d0d0d" stroke-width="0.35" fill="#0d0d0d">Standard</text>
<text x="484.2" y="1983.9" font-size="30.5" text-anchor="middle" stroke="#0d0d0d" stroke-width="0.35" fill="#0d0d0d">MaR2 isomer I</text>
<text x="850.5" y="1983.8" font-size="30.5" text-anchor="middle" stroke="#0d0d0d" stroke-width="0.35" fill="#0d0d0d">MaR2 Isomer II</text>
<line x1="57.14" y1="2221.6" x2="57.14" y2="2217.45" stroke="#6272b6" stroke-width="1" stroke-linecap="butt"/>
<line x1="59.95" y1="2221.6" x2="59.95" y2="2214.34" stroke="#6272b6" stroke-width="1" stroke-linecap="butt"/>
<line x1="64.62" y1="2221.6" x2="64.62" y2="2219.53" stroke="#6272b6" stroke-width="1" stroke-linecap="butt"/>
<line x1="67.42" y1="2221.6" x2="67.42" y2="2219.53" stroke="#6272b6" stroke-width="1" stroke-linecap="butt"/>
<line x1="71.16" y1="2221.6" x2="71.16" y2="2214.34" stroke="#6272b6" stroke-width="1" stroke-linecap="butt"/>
<line x1="76.77" y1="2221.6" x2="76.77" y2="2214.34" stroke="#6272b6" stroke-width="1" stroke-linecap="butt"/>
<line x1="80.51" y1="2221.6" x2="80.51" y2="2218.49" stroke="#6272b6" stroke-width="1" stroke-linecap="butt"/>
<line x1="82.38" y1="2221.6" x2="82.38" y2="2218.49" stroke="#6272b6" stroke-width="1" stroke-linecap="butt"/>
<line x1="86.11" y1="2221.6" x2="86.11" y2="2196.7" stroke="#6272b6" stroke-width="1" stroke-linecap="butt"/>
<line x1="89.85" y1="2221.6" x2="89.85" y2="2218.49" stroke="#6272b6" stroke-width="1" stroke-linecap="butt"/>
<line x1="91.72" y1="2221.6" x2="91.72" y2="2201.89" stroke="#6272b6" stroke-width="1" stroke-linecap="butt"/>
<line x1="93.59" y1="2221.6" x2="93.59" y2="2200.85" stroke="#6272b6" stroke-width="1" stroke-linecap="butt"/>
<line x1="96.39" y1="2221.6" x2="96.39" y2="2215.38" stroke="#6272b6" stroke-width="1" stroke-linecap="butt"/>
<line x1="99.2" y1="2221.6" x2="99.2" y2="2216.41" stroke="#6272b6" stroke-width="1" stroke-linecap="butt"/>
<line x1="101.07" y1="2221.6" x2="101.07" y2="2216.41" stroke="#6272b6" stroke-width="1" stroke-linecap="butt"/>
<line x1="102.94" y1="2221.6" x2="102.94" y2="2185.29" stroke="#6272b6" stroke-width="1" stroke-linecap="butt"/>
<line x1="104.8" y1="2221.6" x2="104.8" y2="2215.38" stroke="#6272b6" stroke-width="1" stroke-linecap="butt"/>
<line x1="106.67" y1="2221.6" x2="106.67" y2="2217.45" stroke="#6272b6" stroke-width="1" stroke-linecap="butt"/>
<line x1="110.41" y1="2221.6" x2="110.41" y2="2214.34" stroke="#6272b6" stroke-width="1" stroke-linecap="butt"/>
<line x1="115.08" y1="2221.6" x2="115.08" y2="2216.41" stroke="#6272b6" stroke-width="1" stroke-linecap="butt"/>
<line x1="116.95" y1="2221.6" x2="116.95" y2="2213.3" stroke="#6272b6" stroke-width="1" stroke-linecap="butt"/>
<line x1="117.89" y1="2221.6" x2="117.89" y2="2211.22" stroke="#6272b6" stroke-width="1" stroke-linecap="butt"/>
<line x1="118.82" y1="2221.6" x2="118.82" y2="2211.22" stroke="#6272b6" stroke-width="1" stroke-linecap="butt"/>
<line x1="119.76" y1="2221.6" x2="119.76" y2="2207.07" stroke="#6272b6" stroke-width="1" stroke-linecap="butt"/>
<line x1="120.69" y1="2221.6" x2="120.69" y2="2215.38" stroke="#6272b6" stroke-width="1" stroke-linecap="butt"/>
<line x1="129.1" y1="2221.6" x2="129.1" y2="2199.81" stroke="#6272b6" stroke-width="1" stroke-linecap="butt"/>
<line x1="134.71" y1="2221.6" x2="134.71" y2="2214.34" stroke="#6272b6" stroke-width="1" stroke-linecap="butt"/>
<line x1="136.58" y1="2221.6" x2="136.58" y2="2093.99" stroke="#6272b6" stroke-width="1" stroke-linecap="butt"/>
<line x1="140.32" y1="2221.6" x2="140.32" y2="2217.45" stroke="#6272b6" stroke-width="1" stroke-linecap="butt"/>
<line x1="142.18" y1="2221.6" x2="142.18" y2="2217.45" stroke="#6272b6" stroke-width="1" stroke-linecap="butt"/>
<line x1="144.05" y1="2221.6" x2="144.05" y2="2215.38" stroke="#6272b6" stroke-width="1" stroke-linecap="butt"/>
<line x1="145.92" y1="2221.6" x2="145.92" y2="2218.49" stroke="#6272b6" stroke-width="1" stroke-linecap="butt"/>
<line x1="158.07" y1="2221.6" x2="158.07" y2="2215.38" stroke="#6272b6" stroke-width="1" stroke-linecap="butt"/>
<line x1="159.94" y1="2221.6" x2="159.94" y2="2214.34" stroke="#6272b6" stroke-width="1" stroke-linecap="butt"/>
<line x1="160.87" y1="2221.6" x2="160.87" y2="2208.11" stroke="#6272b6" stroke-width="1" stroke-linecap="butt"/>
<line x1="170.22" y1="2221.6" x2="170.22" y2="2213.3" stroke="#6272b6" stroke-width="1" stroke-linecap="butt"/>
<line x1="175.83" y1="2221.6" x2="175.83" y2="2216.41" stroke="#6272b6" stroke-width="1" stroke-linecap="butt"/>
<line x1="177.7" y1="2221.6" x2="177.7" y2="2216.41" stroke="#6272b6" stroke-width="1" stroke-linecap="butt"/>
<line x1="186.11" y1="2221.6" x2="186.11" y2="2216.41" stroke="#6272b6" stroke-width="1" stroke-linecap="butt"/>
<line x1="190.78" y1="2221.6" x2="190.78" y2="2217.45" stroke="#6272b6" stroke-width="1" stroke-linecap="butt"/>
<line x1="193.58" y1="2221.6" x2="193.58" y2="2217.45" stroke="#6272b6" stroke-width="1" stroke-linecap="butt"/>
<line x1="196.39" y1="2221.6" x2="196.39" y2="2216.41" stroke="#6272b6" stroke-width="1" stroke-linecap="butt"/>
<line x1="207.6" y1="2221.6" x2="207.6" y2="2218.49" stroke="#6272b6" stroke-width="1" stroke-linecap="butt"/>
<line x1="212.27" y1="2221.6" x2="212.27" y2="2191.51" stroke="#6272b6" stroke-width="1" stroke-linecap="butt"/>
<line x1="214.14" y1="2221.6" x2="214.14" y2="2176.99" stroke="#6272b6" stroke-width="1" stroke-linecap="butt"/>
<line x1="215.08" y1="2221.6" x2="215.08" y2="2217.45" stroke="#6272b6" stroke-width="1" stroke-linecap="butt"/>
<line x1="226.29" y1="2221.6" x2="226.29" y2="2218.49" stroke="#6272b6" stroke-width="1" stroke-linecap="butt"/>
<line x1="231.9" y1="2221.6" x2="231.9" y2="2193.59" stroke="#6272b6" stroke-width="1" stroke-linecap="butt"/>
<line x1="232.83" y1="2221.6" x2="232.83" y2="2159.35" stroke="#6272b6" stroke-width="1" stroke-linecap="butt"/>
<line x1="233.77" y1="2221.6" x2="233.77" y2="2133" stroke="#6272b6" stroke-width="1" stroke-linecap="butt"/>
<line x1="235.63" y1="2221.6" x2="235.63" y2="2215.38" stroke="#6272b6" stroke-width="1" stroke-linecap="butt"/>
<line x1="248.72" y1="2221.6" x2="248.72" y2="2216" stroke="#6272b6" stroke-width="1" stroke-linecap="butt"/>
<line x1="256.19" y1="2221.6" x2="256.19" y2="2219.53" stroke="#6272b6" stroke-width="1" stroke-linecap="butt"/>
<line x1="258.06" y1="2221.6" x2="258.06" y2="2217.45" stroke="#6272b6" stroke-width="1" stroke-linecap="butt"/>
<line x1="270.21" y1="2221.6" x2="270.21" y2="2217.45" stroke="#6272b6" stroke-width="1" stroke-linecap="butt"/>
<line x1="272.08" y1="2221.6" x2="272.08" y2="2210.19" stroke="#6272b6" stroke-width="1" stroke-linecap="butt"/>
<line x1="273.01" y1="2221.6" x2="273.01" y2="2209.98" stroke="#6272b6" stroke-width="1" stroke-linecap="butt"/>
<line x1="289.84" y1="2221.6" x2="289.84" y2="2014.1" stroke="#6272b6" stroke-width="1" stroke-linecap="butt"/>
<line x1="290.77" y1="2221.6" x2="290.77" y2="2216.41" stroke="#6272b6" stroke-width="1" stroke-linecap="butt"/>
<line x1="229.4" y1="2152.8" x2="232.5" y2="2172" stroke="#e6907c" stroke-width="1" stroke-linecap="butt"/>
<line x1="231.5" y1="2158" x2="232" y2="2215" stroke="#e6907c" stroke-width="1" stroke-linecap="butt"/>
<line x1="212.5" y1="2168" x2="215.2" y2="2176" stroke="#e6907c" stroke-width="1" stroke-linecap="butt"/>
<line x1="244.5" y1="2193" x2="249" y2="2208" stroke="#e6907c" stroke-width="1" stroke-linecap="butt"/>
<line x1="256" y1="2193" x2="257.5" y2="2219" stroke="#e6907c" stroke-width="1" stroke-linecap="butt"/>
<line x1="264" y1="2181.5" x2="257" y2="2196" stroke="#e6907c" stroke-width="1" stroke-linecap="butt"/>
<line x1="272" y1="2201" x2="274" y2="2208" stroke="#e6907c" stroke-width="1" stroke-linecap="butt"/>
<line x1="165.3" y1="2196.7" x2="161.4" y2="2207.5" stroke="#e6907c" stroke-width="1" stroke-linecap="butt"/>
<line x1="84.6" y1="2187.4" x2="91.4" y2="2196.5" stroke="#e6907c" stroke-width="1" stroke-linecap="butt"/>
<line x1="88.7" y1="2174.2" x2="93.4" y2="2182.4" stroke="#e6907c" stroke-width="1" stroke-linecap="butt"/>
<line x1="93.4" y1="2182.4" x2="93.4" y2="2220" stroke="#e6907c" stroke-width="1" stroke-linecap="butt"/>
<line x1="99.2" y1="2163.4" x2="103" y2="2184.1" stroke="#e6907c" stroke-width="1" stroke-linecap="butt"/>
<line x1="114.8" y1="2169.2" x2="110" y2="2179.1" stroke="#e6907c" stroke-width="1" stroke-linecap="butt"/>
<line x1="110" y1="2179.1" x2="110" y2="2214" stroke="#e6907c" stroke-width="1" stroke-linecap="butt"/>
<line x1="122.7" y1="2190.7" x2="119.8" y2="2204" stroke="#e6907c" stroke-width="1" stroke-linecap="butt"/>
<line x1="146.8" y1="2200.7" x2="144" y2="2213.1" stroke="#e6907c" stroke-width="1" stroke-linecap="butt"/>
<line x1="47.8" y1="2013.6" x2="47.8" y2="2221.6" stroke="#333" stroke-width="1.2" stroke-linecap="butt"/>
<line x1="43.8" y1="2221.6" x2="47.8" y2="2221.6" stroke="#333" stroke-width="1.2" stroke-linecap="butt"/>
<text x="43.3" y="2226.6" font-size="13.8" text-anchor="end" fill="#1a1a1a" stroke="#1a1a1a" stroke-width="0.22">0</text>
<line x1="43.8" y1="2180.1" x2="47.8" y2="2180.1" stroke="#333" stroke-width="1.2" stroke-linecap="butt"/>
<text x="43.3" y="2185.1" font-size="13.8" text-anchor="end" fill="#1a1a1a" stroke="#1a1a1a" stroke-width="0.22">20</text>
<line x1="43.8" y1="2138.6" x2="47.8" y2="2138.6" stroke="#333" stroke-width="1.2" stroke-linecap="butt"/>
<text x="43.3" y="2143.6" font-size="13.8" text-anchor="end" fill="#1a1a1a" stroke="#1a1a1a" stroke-width="0.22">40</text>
<line x1="43.8" y1="2097.1" x2="47.8" y2="2097.1" stroke="#333" stroke-width="1.2" stroke-linecap="butt"/>
<text x="43.3" y="2102.1" font-size="13.8" text-anchor="end" fill="#1a1a1a" stroke="#1a1a1a" stroke-width="0.22">60</text>
<line x1="43.8" y1="2055.6" x2="47.8" y2="2055.6" stroke="#333" stroke-width="1.2" stroke-linecap="butt"/>
<text x="43.3" y="2060.6" font-size="13.8" text-anchor="end" fill="#1a1a1a" stroke="#1a1a1a" stroke-width="0.22">80</text>
<line x1="43.8" y1="2014.1" x2="47.8" y2="2014.1" stroke="#333" stroke-width="1.2" stroke-linecap="butt"/>
<text x="43.3" y="2019.1" font-size="13.8" text-anchor="end" fill="#1a1a1a" stroke="#1a1a1a" stroke-width="0.22">100</text>
<line x1="43.8" y1="2221.6" x2="328.6" y2="2221.6" stroke="#333" stroke-width="1.2" stroke-linecap="butt"/>
<line x1="47.8" y1="2221.6" x2="47.8" y2="2225.6" stroke="#333" stroke-width="1.2" stroke-linecap="butt"/>
<text x="47.8" y="2240.1" font-size="13.8" text-anchor="middle" fill="#1a1a1a" stroke="#1a1a1a" stroke-width="0.22">100</text>
<line x1="85.18" y1="2221.6" x2="85.18" y2="2225.6" stroke="#333" stroke-width="1.2" stroke-linecap="butt"/>
<text x="85.18" y="2240.1" font-size="13.8" text-anchor="middle" fill="#1a1a1a" stroke="#1a1a1a" stroke-width="0.22">140</text>
<line x1="122.56" y1="2221.6" x2="122.56" y2="2225.6" stroke="#333" stroke-width="1.2" stroke-linecap="butt"/>
<text x="122.56" y="2240.1" font-size="13.8" text-anchor="middle" fill="#1a1a1a" stroke="#1a1a1a" stroke-width="0.22">180</text>
<line x1="159.94" y1="2221.6" x2="159.94" y2="2225.6" stroke="#333" stroke-width="1.2" stroke-linecap="butt"/>
<text x="159.94" y="2240.1" font-size="13.8" text-anchor="middle" fill="#1a1a1a" stroke="#1a1a1a" stroke-width="0.22">220</text>
<line x1="197.32" y1="2221.6" x2="197.32" y2="2225.6" stroke="#333" stroke-width="1.2" stroke-linecap="butt"/>
<text x="197.32" y="2240.1" font-size="13.8" text-anchor="middle" fill="#1a1a1a" stroke="#1a1a1a" stroke-width="0.22">260</text>
<line x1="234.7" y1="2221.6" x2="234.7" y2="2225.6" stroke="#333" stroke-width="1.2" stroke-linecap="butt"/>
<text x="234.7" y="2240.1" font-size="13.8" text-anchor="middle" fill="#1a1a1a" stroke="#1a1a1a" stroke-width="0.22">300</text>
<line x1="272.08" y1="2221.6" x2="272.08" y2="2225.6" stroke="#333" stroke-width="1.2" stroke-linecap="butt"/>
<text x="272.08" y="2240.1" font-size="13.8" text-anchor="middle" fill="#1a1a1a" stroke="#1a1a1a" stroke-width="0.22">340</text>
<line x1="309.46" y1="2221.6" x2="309.46" y2="2225.6" stroke="#333" stroke-width="1.2" stroke-linecap="butt"/>
<text x="309.46" y="2240.1" font-size="13.8" text-anchor="middle" fill="#1a1a1a" stroke="#1a1a1a" stroke-width="0.22">380</text>
<text x="289.5" y="2012.3" font-size="11.3" text-anchor="middle" fill="#1a1a1a" font-weight="bold">359</text>
<text x="222" y="2149.3" font-size="11.3" text-anchor="middle" fill="#1a1a1a" stroke="#1a1a1a" stroke-width="0.6">297</text>
<text x="208" y="2165.1" font-size="11.3" text-anchor="middle" fill="#1a1a1a" stroke="#1a1a1a" stroke-width="0.6">279</text>
<text x="246.8" y="2188.8" font-size="11.3" text-anchor="middle" fill="#1a1a1a" stroke="#1a1a1a" stroke-width="0.6">315</text>
<text x="270" y="2181.8" font-size="11.3" text-anchor="middle" fill="#1a1a1a" stroke="#1a1a1a" stroke-width="0.6">323</text>
<text x="279" y="2196.3" font-size="11.3" text-anchor="middle" fill="#1a1a1a" stroke="#1a1a1a" stroke-width="0.6">341</text>
<text x="173.6" y="2194" font-size="11.3" text-anchor="middle" fill="#1a1a1a" stroke="#1a1a1a" stroke-width="0.6">221</text>
<text x="75" y="2189.1" font-size="11.3" text-anchor="middle" fill="#1a1a1a" stroke="#1a1a1a" stroke-width="0.6">147</text>
<text x="83" y="2172.5" font-size="11.3" text-anchor="middle" fill="#1a1a1a" stroke="#1a1a1a" stroke-width="0.6">149</text>
<text x="99" y="2160.9" font-size="11.3" text-anchor="middle" fill="#1a1a1a" stroke="#1a1a1a" stroke-width="0.6">159</text>
<text x="119.7" y="2165" font-size="11.3" text-anchor="middle" fill="#1a1a1a" stroke="#1a1a1a" stroke-width="0.6">167</text>
<text x="125.7" y="2188.3" font-size="11.3" text-anchor="middle" fill="#1a1a1a" stroke="#1a1a1a" stroke-width="0.6">177</text>
<text x="149" y="2198.2" font-size="11.3" text-anchor="middle" fill="#1a1a1a" stroke="#1a1a1a" stroke-width="0.6">203</text>
<text x="9.3" y="2117" font-size="13.6" text-anchor="middle" fill="#1a1a1a" stroke="#1a1a1a" stroke-width="0.22" transform="rotate(-90 9.3 2117)">Relative intesity (%)</text>
<text x="188.5" y="2258.5" font-size="13.8" text-anchor="middle" fill="#1a1a1a" stroke="#1a1a1a" stroke-width="0.22">m/z (Da)</text>
<line x1="376.74" y1="2221.5" x2="376.74" y2="2219.43" stroke="#6272b6" stroke-width="1" stroke-linecap="butt"/>
<line x1="379.54" y1="2221.5" x2="379.54" y2="2218.39" stroke="#6272b6" stroke-width="1" stroke-linecap="butt"/>
<line x1="382.35" y1="2221.5" x2="382.35" y2="2219.43" stroke="#6272b6" stroke-width="1" stroke-linecap="butt"/>
<line x1="387.02" y1="2221.5" x2="387.02" y2="2213.2" stroke="#6272b6" stroke-width="1" stroke-linecap="butt"/>
<line x1="394.5" y1="2221.5" x2="394.5" y2="2217.35" stroke="#6272b6" stroke-width="1" stroke-linecap="butt"/>
<line x1="396.37" y1="2221.5" x2="396.37" y2="2215.28" stroke="#6272b6" stroke-width="1" stroke-linecap="butt"/>
<line x1="399.18" y1="2221.5" x2="399.18" y2="2214.24" stroke="#6272b6" stroke-width="1" stroke-linecap="butt"/>
<line x1="401.98" y1="2221.5" x2="401.98" y2="2218.39" stroke="#6272b6" stroke-width="1" stroke-linecap="butt"/>
<line x1="404.79" y1="2221.5" x2="404.79" y2="2218.39" stroke="#6272b6" stroke-width="1" stroke-linecap="butt"/>
<line x1="407.59" y1="2221.5" x2="407.59" y2="2219.43" stroke="#6272b6" stroke-width="1" stroke-linecap="butt"/>
<line x1="414.13" y1="2221.5" x2="414.13" y2="2216.31" stroke="#6272b6" stroke-width="1" stroke-linecap="butt"/>
<line x1="416" y1="2221.5" x2="416" y2="2213.2" stroke="#6272b6" stroke-width="1" stroke-linecap="butt"/>
<line x1="417.88" y1="2221.5" x2="417.88" y2="2211.12" stroke="#6272b6" stroke-width="1" stroke-linecap="butt"/>
<line x1="419.75" y1="2221.5" x2="419.75" y2="2212.16" stroke="#6272b6" stroke-width="1" stroke-linecap="butt"/>
<line x1="421.62" y1="2221.5" x2="421.62" y2="2209.05" stroke="#6272b6" stroke-width="1" stroke-linecap="butt"/>
<line x1="423.49" y1="2221.5" x2="423.49" y2="2200.75" stroke="#6272b6" stroke-width="1" stroke-linecap="butt"/>
<line x1="424.42" y1="2221.5" x2="424.42" y2="2192.45" stroke="#6272b6" stroke-width="1" stroke-linecap="butt"/>
<line x1="426.29" y1="2221.5" x2="426.29" y2="2211.12" stroke="#6272b6" stroke-width="1" stroke-linecap="butt"/>
<line x1="429.1" y1="2221.5" x2="429.1" y2="2213.2" stroke="#6272b6" stroke-width="1" stroke-linecap="butt"/>
<line x1="430.97" y1="2221.5" x2="430.97" y2="2210.09" stroke="#6272b6" stroke-width="1" stroke-linecap="butt"/>
<line x1="432.84" y1="2221.5" x2="432.84" y2="2214.24" stroke="#6272b6" stroke-width="1" stroke-linecap="butt"/>
<line x1="434.71" y1="2221.5" x2="434.71" y2="2217.35" stroke="#6272b6" stroke-width="1" stroke-linecap="butt"/>
<line x1="442.19" y1="2221.5" x2="442.19" y2="2213.2" stroke="#6272b6" stroke-width="1" stroke-linecap="butt"/>
<line x1="444.06" y1="2221.5" x2="444.06" y2="2213.2" stroke="#6272b6" stroke-width="1" stroke-linecap="butt"/>
<line x1="445.93" y1="2221.5" x2="445.93" y2="2214.24" stroke="#6272b6" stroke-width="1" stroke-linecap="butt"/>
<line x1="447.8" y1="2221.5" x2="447.8" y2="2213.2" stroke="#6272b6" stroke-width="1" stroke-linecap="butt"/>
<line x1="449.67" y1="2221.5" x2="449.67" y2="2217.35" stroke="#6272b6" stroke-width="1" stroke-linecap="butt"/>
<line x1="458.08" y1="2221.5" x2="458.08" y2="2216.31" stroke="#6272b6" stroke-width="1" stroke-linecap="butt"/>
<line x1="460.88" y1="2221.5" x2="460.88" y2="2217.35" stroke="#6272b6" stroke-width="1" stroke-linecap="butt"/>
<line x1="462.75" y1="2221.5" x2="462.75" y2="2214.24" stroke="#6272b6" stroke-width="1" stroke-linecap="butt"/>
<line x1="464.62" y1="2221.5" x2="464.62" y2="2202.82" stroke="#6272b6" stroke-width="1" stroke-linecap="butt"/>
<line x1="468.37" y1="2221.5" x2="468.37" y2="2214.24" stroke="#6272b6" stroke-width="1" stroke-linecap="butt"/>
<line x1="470.24" y1="2221.5" x2="470.24" y2="2214.24" stroke="#6272b6" stroke-width="1" stroke-linecap="butt"/>
<line x1="472.11" y1="2221.5" x2="472.11" y2="2191.41" stroke="#6272b6" stroke-width="1" stroke-linecap="butt"/>
<line x1="475.85" y1="2221.5" x2="475.85" y2="2218.39" stroke="#6272b6" stroke-width="1" stroke-linecap="butt"/>
<line x1="481.46" y1="2221.5" x2="481.46" y2="2217.35" stroke="#6272b6" stroke-width="1" stroke-linecap="butt"/>
<line x1="485.2" y1="2221.5" x2="485.2" y2="2218.39" stroke="#6272b6" stroke-width="1" stroke-linecap="butt"/>
<line x1="488.94" y1="2221.5" x2="488.94" y2="2216.31" stroke="#6272b6" stroke-width="1" stroke-linecap="butt"/>
<line x1="492.68" y1="2221.5" x2="492.68" y2="2217.35" stroke="#6272b6" stroke-width="1" stroke-linecap="butt"/>
<line x1="495.48" y1="2221.5" x2="495.48" y2="2209.05" stroke="#6272b6" stroke-width="1" stroke-linecap="butt"/>
<line x1="498.29" y1="2221.5" x2="498.29" y2="2209.05" stroke="#6272b6" stroke-width="1" stroke-linecap="butt"/>
<line x1="500.16" y1="2221.5" x2="500.16" y2="2217.35" stroke="#6272b6" stroke-width="1" stroke-linecap="butt"/>
<line x1="505.76" y1="2221.5" x2="505.76" y2="2036.83" stroke="#6272b6" stroke-width="1" stroke-linecap="butt"/>
<line x1="507.63" y1="2221.5" x2="507.63" y2="2214.24" stroke="#6272b6" stroke-width="1" stroke-linecap="butt"/>
<line x1="510.44" y1="2221.5" x2="510.44" y2="2217.35" stroke="#6272b6" stroke-width="1" stroke-linecap="butt"/>
<line x1="515.12" y1="2221.5" x2="515.12" y2="2218.39" stroke="#6272b6" stroke-width="1" stroke-linecap="butt"/>
<line x1="518.86" y1="2221.5" x2="518.86" y2="2209.05" stroke="#6272b6" stroke-width="1" stroke-linecap="butt"/>
<line x1="521.66" y1="2221.5" x2="521.66" y2="2217.35" stroke="#6272b6" stroke-width="1" stroke-linecap="butt"/>
<line x1="532.88" y1="2221.5" x2="532.88" y2="2216.31" stroke="#6272b6" stroke-width="1" stroke-linecap="butt"/>
<line x1="535.69" y1="2221.5" x2="535.69" y2="2217.35" stroke="#6272b6" stroke-width="1" stroke-linecap="butt"/>
<line x1="537.56" y1="2221.5" x2="537.56" y2="2216.31" stroke="#6272b6" stroke-width="1" stroke-linecap="butt"/>
<line x1="541.3" y1="2221.5" x2="541.3" y2="2172.74" stroke="#6272b6" stroke-width="1" stroke-linecap="butt"/>
<line x1="543.16" y1="2221.5" x2="543.16" y2="2204.9" stroke="#6272b6" stroke-width="1" stroke-linecap="butt"/>
<line x1="546.9" y1="2221.5" x2="546.9" y2="2217.35" stroke="#6272b6" stroke-width="1" stroke-linecap="butt"/>
<line x1="548.78" y1="2221.5" x2="548.78" y2="2215.28" stroke="#6272b6" stroke-width="1" stroke-linecap="butt"/>
<line x1="550.64" y1="2221.5" x2="550.64" y2="2213.2" stroke="#6272b6" stroke-width="1" stroke-linecap="butt"/>
<line x1="555.32" y1="2221.5" x2="555.32" y2="2215.28" stroke="#6272b6" stroke-width="1" stroke-linecap="butt"/>
<line x1="558.12" y1="2221.5" x2="558.12" y2="2213.2" stroke="#6272b6" stroke-width="1" stroke-linecap="butt"/>
<line x1="560" y1="2221.5" x2="560" y2="2192.45" stroke="#6272b6" stroke-width="1" stroke-linecap="butt"/>
<line x1="561.87" y1="2221.5" x2="561.87" y2="2211.12" stroke="#6272b6" stroke-width="1" stroke-linecap="butt"/>
<line x1="563.74" y1="2221.5" x2="563.74" y2="2215.28" stroke="#6272b6" stroke-width="1" stroke-linecap="butt"/>
<line x1="573.09" y1="2221.5" x2="573.09" y2="2215.28" stroke="#6272b6" stroke-width="1" stroke-linecap="butt"/>
<line x1="574.96" y1="2221.5" x2="574.96" y2="2211.12" stroke="#6272b6" stroke-width="1" stroke-linecap="butt"/>
<line x1="576.83" y1="2221.5" x2="576.83" y2="2153.03" stroke="#6272b6" stroke-width="1" stroke-linecap="butt"/>
<line x1="580.57" y1="2221.5" x2="580.57" y2="2217.35" stroke="#6272b6" stroke-width="1" stroke-linecap="butt"/>
<line x1="582.44" y1="2221.5" x2="582.44" y2="2216.31" stroke="#6272b6" stroke-width="1" stroke-linecap="butt"/>
<line x1="584.31" y1="2221.5" x2="584.31" y2="2215.28" stroke="#6272b6" stroke-width="1" stroke-linecap="butt"/>
<line x1="587.11" y1="2221.5" x2="587.11" y2="2217.35" stroke="#6272b6" stroke-width="1" stroke-linecap="butt"/>
<line x1="590.85" y1="2221.5" x2="590.85" y2="2216.31" stroke="#6272b6" stroke-width="1" stroke-linecap="butt"/>
<line x1="599.26" y1="2221.5" x2="599.26" y2="2126.88" stroke="#6272b6" stroke-width="1" stroke-linecap="butt"/>
<line x1="601.13" y1="2221.5" x2="601.13" y2="2175.85" stroke="#6272b6" stroke-width="1" stroke-linecap="butt"/>
<line x1="617.97" y1="2221.5" x2="617.97" y2="2014" stroke="#6272b6" stroke-width="1" stroke-linecap="butt"/>
<line x1="618.9" y1="2221.5" x2="618.9" y2="2215.28" stroke="#6272b6" stroke-width="1" stroke-linecap="butt"/>
<line x1="414" y1="2192.3" x2="418.7" y2="2220" stroke="#e6907c" stroke-width="1" stroke-linecap="butt"/>
<line x1="426.3" y1="2175.6" x2="421.5" y2="2207" stroke="#e6907c" stroke-width="1" stroke-linecap="butt"/>
<line x1="436.8" y1="2197.6" x2="430.6" y2="2210.8" stroke="#e6907c" stroke-width="1" stroke-linecap="butt"/>
<line x1="455.2" y1="2198.5" x2="449.1" y2="2214.3" stroke="#e6907c" stroke-width="1" stroke-linecap="butt"/>
<line x1="476.3" y1="2166.8" x2="472.5" y2="2189" stroke="#e6907c" stroke-width="1" stroke-linecap="butt"/>
<line x1="493" y1="2202.8" x2="489.5" y2="2213.5" stroke="#e6907c" stroke-width="1" stroke-linecap="butt"/>
<line x1="541.5" y1="2153.5" x2="542.8" y2="2205" stroke="#e6907c" stroke-width="1" stroke-linecap="butt"/>
<line x1="592" y1="2197" x2="585" y2="2212" stroke="#e6907c" stroke-width="1" stroke-linecap="butt"/>
<line x1="606" y1="2165" x2="602" y2="2175" stroke="#e6907c" stroke-width="1" stroke-linecap="butt"/>
<line x1="375.8" y1="2013.5" x2="375.8" y2="2221.5" stroke="#333" stroke-width="1.2" stroke-linecap="butt"/>
<line x1="371.8" y1="2221.5" x2="375.8" y2="2221.5" stroke="#333" stroke-width="1.2" stroke-linecap="butt"/>
<text x="371.3" y="2226.5" font-size="13.8" text-anchor="end" fill="#1a1a1a" stroke="#1a1a1a" stroke-width="0.22">0</text>
<line x1="371.8" y1="2180" x2="375.8" y2="2180" stroke="#333" stroke-width="1.2" stroke-linecap="butt"/>
<text x="371.3" y="2185" font-size="13.8" text-anchor="end" fill="#1a1a1a" stroke="#1a1a1a" stroke-width="0.22">20</text>
<line x1="371.8" y1="2138.5" x2="375.8" y2="2138.5" stroke="#333" stroke-width="1.2" stroke-linecap="butt"/>
<text x="371.3" y="2143.5" font-size="13.8" text-anchor="end" fill="#1a1a1a" stroke="#1a1a1a" stroke-width="0.22">40</text>
<line x1="371.8" y1="2097" x2="375.8" y2="2097" stroke="#333" stroke-width="1.2" stroke-linecap="butt"/>
<text x="371.3" y="2102" font-size="13.8" text-anchor="end" fill="#1a1a1a" stroke="#1a1a1a" stroke-width="0.22">60</text>
<line x1="371.8" y1="2055.5" x2="375.8" y2="2055.5" stroke="#333" stroke-width="1.2" stroke-linecap="butt"/>
<text x="371.3" y="2060.5" font-size="13.8" text-anchor="end" fill="#1a1a1a" stroke="#1a1a1a" stroke-width="0.22">80</text>
<line x1="371.8" y1="2014" x2="375.8" y2="2014" stroke="#333" stroke-width="1.2" stroke-linecap="butt"/>
<text x="371.3" y="2019" font-size="13.8" text-anchor="end" fill="#1a1a1a" stroke="#1a1a1a" stroke-width="0.22">100</text>
<line x1="371.8" y1="2221.5" x2="656.6" y2="2221.5" stroke="#333" stroke-width="1.2" stroke-linecap="butt"/>
<line x1="375.8" y1="2221.5" x2="375.8" y2="2225.5" stroke="#333" stroke-width="1.2" stroke-linecap="butt"/>
<text x="375.8" y="2240" font-size="13.8" text-anchor="middle" fill="#1a1a1a" stroke="#1a1a1a" stroke-width="0.22">100</text>
<line x1="413.2" y1="2221.5" x2="413.2" y2="2225.5" stroke="#333" stroke-width="1.2" stroke-linecap="butt"/>
<text x="413.2" y="2240" font-size="13.8" text-anchor="middle" fill="#1a1a1a" stroke="#1a1a1a" stroke-width="0.22">140</text>
<line x1="450.6" y1="2221.5" x2="450.6" y2="2225.5" stroke="#333" stroke-width="1.2" stroke-linecap="butt"/>
<text x="450.6" y="2240" font-size="13.8" text-anchor="middle" fill="#1a1a1a" stroke="#1a1a1a" stroke-width="0.22">180</text>
<line x1="488" y1="2221.5" x2="488" y2="2225.5" stroke="#333" stroke-width="1.2" stroke-linecap="butt"/>
<text x="488" y="2240" font-size="13.8" text-anchor="middle" fill="#1a1a1a" stroke="#1a1a1a" stroke-width="0.22">220</text>
<line x1="525.4" y1="2221.5" x2="525.4" y2="2225.5" stroke="#333" stroke-width="1.2" stroke-linecap="butt"/>
<text x="525.4" y="2240" font-size="13.8" text-anchor="middle" fill="#1a1a1a" stroke="#1a1a1a" stroke-width="0.22">260</text>
<line x1="562.8" y1="2221.5" x2="562.8" y2="2225.5" stroke="#333" stroke-width="1.2" stroke-linecap="butt"/>
<text x="562.8" y="2240" font-size="13.8" text-anchor="middle" fill="#1a1a1a" stroke="#1a1a1a" stroke-width="0.22">300</text>
<line x1="600.2" y1="2221.5" x2="600.2" y2="2225.5" stroke="#333" stroke-width="1.2" stroke-linecap="butt"/>
<text x="600.2" y="2240" font-size="13.8" text-anchor="middle" fill="#1a1a1a" stroke="#1a1a1a" stroke-width="0.22">340</text>
<line x1="637.6" y1="2221.5" x2="637.6" y2="2225.5" stroke="#333" stroke-width="1.2" stroke-linecap="butt"/>
<text x="637.6" y="2240" font-size="13.8" text-anchor="middle" fill="#1a1a1a" stroke="#1a1a1a" stroke-width="0.22">380</text>
<text x="617.5" y="2012.1" font-size="11.3" text-anchor="middle" fill="#1a1a1a" font-weight="bold">359</text>
<text x="535.8" y="2151.2" font-size="11.3" text-anchor="middle" fill="#1a1a1a" stroke="#1a1a1a" stroke-width="0.6">279</text>
<text x="577" y="2151.6" font-size="11.3" text-anchor="middle" fill="#1a1a1a" stroke="#1a1a1a" stroke-width="0.6">315</text>
<text x="609.7" y="2163.9" font-size="11.3" text-anchor="middle" fill="#1a1a1a" stroke="#1a1a1a" stroke-width="0.6">341</text>
<text x="560.6" y="2190.8" font-size="11.3" text-anchor="middle" fill="#1a1a1a" stroke="#1a1a1a" stroke-width="0.6">297</text>
<text x="589.3" y="2194.1" font-size="11.3" text-anchor="middle" fill="#1a1a1a" stroke="#1a1a1a" stroke-width="0.6">323</text>
<text x="492.9" y="2200" font-size="11.3" text-anchor="middle" fill="#1a1a1a" stroke="#1a1a1a" stroke-width="0.6">221</text>
<text x="399.5" y="2192.3" font-size="11.3" text-anchor="middle" fill="#1a1a1a" stroke="#1a1a1a" stroke-width="0.6">147</text>
<text x="427" y="2173" font-size="11.3" text-anchor="middle" fill="#1a1a1a" stroke="#1a1a1a" stroke-width="0.6">149</text>
<text x="436.3" y="2195" font-size="11.3" text-anchor="middle" fill="#1a1a1a" stroke="#1a1a1a" stroke-width="0.6">159</text>
<text x="460.7" y="2195.8" font-size="11.3" text-anchor="middle" fill="#1a1a1a" stroke="#1a1a1a" stroke-width="0.6">177</text>
<text x="479.9" y="2164.2" font-size="11.3" text-anchor="middle" fill="#1a1a1a" stroke="#1a1a1a" stroke-width="0.6">203</text>
<line x1="385.5" y1="2015.8" x2="601.8" y2="2015.8" stroke="#222" stroke-width="1.3" stroke-linecap="butt"/>
<path d="M377.5 2015.8 L386.5 2012.3 L386.5 2019.3 Z" fill="#222"/>
<path d="M609.8 2015.8 L600.8 2012.3 L600.8 2019.3 Z" fill="#222"/>
<text x="493.6" y="2030.7" font-size="11" text-anchor="middle" fill="#1a1a1a" stroke="#1a1a1a" stroke-width="0.22">3x</text>
<text x="340" y="2117" font-size="13.6" text-anchor="middle" fill="#1a1a1a" stroke="#1a1a1a" stroke-width="0.22" transform="rotate(-90 340 2117)">Relative intesity (%)</text>
<text x="516" y="2258.5" font-size="13.8" text-anchor="middle" fill="#1a1a1a" stroke="#1a1a1a" stroke-width="0.22">m/z (Da)</text>
<line x1="743.66" y1="2221.1" x2="743.66" y2="2215.91" stroke="#6272b6" stroke-width="1" stroke-linecap="butt"/>
<line x1="755.83" y1="2221.1" x2="755.83" y2="2215.91" stroke="#6272b6" stroke-width="1" stroke-linecap="butt"/>
<line x1="757.7" y1="2221.1" x2="757.7" y2="2217.99" stroke="#6272b6" stroke-width="1" stroke-linecap="butt"/>
<line x1="761.45" y1="2221.1" x2="761.45" y2="2219.03" stroke="#6272b6" stroke-width="1" stroke-linecap="butt"/>
<line x1="768" y1="2221.1" x2="768" y2="2203.26" stroke="#6272b6" stroke-width="1" stroke-linecap="butt"/>
<line x1="774.56" y1="2221.1" x2="774.56" y2="2216.95" stroke="#6272b6" stroke-width="1" stroke-linecap="butt"/>
<line x1="775.5" y1="2221.1" x2="775.5" y2="2212.8" stroke="#6272b6" stroke-width="1" stroke-linecap="butt"/>
<line x1="777.37" y1="2221.1" x2="777.37" y2="2214.88" stroke="#6272b6" stroke-width="1" stroke-linecap="butt"/>
<line x1="779.24" y1="2221.1" x2="779.24" y2="2212.8" stroke="#6272b6" stroke-width="1" stroke-linecap="butt"/>
<line x1="780.18" y1="2221.1" x2="780.18" y2="2212.8" stroke="#6272b6" stroke-width="1" stroke-linecap="butt"/>
<line x1="781.12" y1="2221.1" x2="781.12" y2="2212.8" stroke="#6272b6" stroke-width="1" stroke-linecap="butt"/>
<line x1="782.05" y1="2221.1" x2="782.05" y2="2212.8" stroke="#6272b6" stroke-width="1" stroke-linecap="butt"/>
<line x1="782.99" y1="2221.1" x2="782.99" y2="2212.8" stroke="#6272b6" stroke-width="1" stroke-linecap="butt"/>
<line x1="784.86" y1="2221.1" x2="784.86" y2="2214.88" stroke="#6272b6" stroke-width="1" stroke-linecap="butt"/>
<line x1="789.54" y1="2221.1" x2="789.54" y2="2217.99" stroke="#6272b6" stroke-width="1" stroke-linecap="butt"/>
<line x1="793.29" y1="2221.1" x2="793.29" y2="2215.91" stroke="#6272b6" stroke-width="1" stroke-linecap="butt"/>
<line x1="795.16" y1="2221.1" x2="795.16" y2="2216.95" stroke="#6272b6" stroke-width="1" stroke-linecap="butt"/>
<line x1="797.04" y1="2221.1" x2="797.04" y2="2217.99" stroke="#6272b6" stroke-width="1" stroke-linecap="butt"/>
<line x1="799.85" y1="2221.1" x2="799.85" y2="2219.03" stroke="#6272b6" stroke-width="1" stroke-linecap="butt"/>
<line x1="803.59" y1="2221.1" x2="803.59" y2="2213.84" stroke="#6272b6" stroke-width="1" stroke-linecap="butt"/>
<line x1="805.46" y1="2221.1" x2="805.46" y2="2215.91" stroke="#6272b6" stroke-width="1" stroke-linecap="butt"/>
<line x1="808.27" y1="2221.1" x2="808.27" y2="2215.91" stroke="#6272b6" stroke-width="1" stroke-linecap="butt"/>
<line x1="810.15" y1="2221.1" x2="810.15" y2="2215.91" stroke="#6272b6" stroke-width="1" stroke-linecap="butt"/>
<line x1="816.7" y1="2221.1" x2="816.7" y2="2219.03" stroke="#6272b6" stroke-width="1" stroke-linecap="butt"/>
<line x1="819.51" y1="2221.1" x2="819.51" y2="2216.95" stroke="#6272b6" stroke-width="1" stroke-linecap="butt"/>
<line x1="821.38" y1="2221.1" x2="821.38" y2="2219.03" stroke="#6272b6" stroke-width="1" stroke-linecap="butt"/>
<line x1="826.07" y1="2221.1" x2="826.07" y2="2092.45" stroke="#6272b6" stroke-width="1" stroke-linecap="butt"/>
<line x1="829.81" y1="2221.1" x2="829.81" y2="2210.72" stroke="#6272b6" stroke-width="1" stroke-linecap="butt"/>
<line x1="831.69" y1="2221.1" x2="831.69" y2="2211.76" stroke="#6272b6" stroke-width="1" stroke-linecap="butt"/>
<line x1="833.56" y1="2221.1" x2="833.56" y2="2212.8" stroke="#6272b6" stroke-width="1" stroke-linecap="butt"/>
<line x1="842.92" y1="2221.1" x2="842.92" y2="2215.91" stroke="#6272b6" stroke-width="1" stroke-linecap="butt"/>
<line x1="847.61" y1="2221.1" x2="847.61" y2="2216.95" stroke="#6272b6" stroke-width="1" stroke-linecap="butt"/>
<line x1="850.42" y1="2221.1" x2="850.42" y2="2217.99" stroke="#6272b6" stroke-width="1" stroke-linecap="butt"/>
<line x1="853.23" y1="2221.1" x2="853.23" y2="2216.95" stroke="#6272b6" stroke-width="1" stroke-linecap="butt"/>
<line x1="854.16" y1="2221.1" x2="854.16" y2="2206.57" stroke="#6272b6" stroke-width="1" stroke-linecap="butt"/>
<line x1="856.04" y1="2221.1" x2="856.04" y2="2215.91" stroke="#6272b6" stroke-width="1" stroke-linecap="butt"/>
<line x1="857.91" y1="2221.1" x2="857.91" y2="2217.99" stroke="#6272b6" stroke-width="1" stroke-linecap="butt"/>
<line x1="861.65" y1="2221.1" x2="861.65" y2="2217.99" stroke="#6272b6" stroke-width="1" stroke-linecap="butt"/>
<line x1="869.15" y1="2221.1" x2="869.15" y2="2217.99" stroke="#6272b6" stroke-width="1" stroke-linecap="butt"/>
<line x1="873.83" y1="2221.1" x2="873.83" y2="2219.03" stroke="#6272b6" stroke-width="1" stroke-linecap="butt"/>
<line x1="880.38" y1="2221.1" x2="880.38" y2="2196.61" stroke="#6272b6" stroke-width="1" stroke-linecap="butt"/>
<line x1="882.26" y1="2221.1" x2="882.26" y2="2118.18" stroke="#6272b6" stroke-width="1" stroke-linecap="butt"/>
<line x1="893.5" y1="2221.1" x2="893.5" y2="2199.93" stroke="#6272b6" stroke-width="1" stroke-linecap="butt"/>
<line x1="902.86" y1="2221.1" x2="902.86" y2="2094.53" stroke="#6272b6" stroke-width="1" stroke-linecap="butt"/>
<line x1="904.73" y1="2221.1" x2="904.73" y2="2103.65" stroke="#6272b6" stroke-width="1" stroke-linecap="butt"/>
<line x1="906.61" y1="2221.1" x2="906.61" y2="2210.72" stroke="#6272b6" stroke-width="1" stroke-linecap="butt"/>
<line x1="908.48" y1="2221.1" x2="908.48" y2="2214.88" stroke="#6272b6" stroke-width="1" stroke-linecap="butt"/>
<line x1="911.29" y1="2221.1" x2="911.29" y2="2183.96" stroke="#6272b6" stroke-width="1" stroke-linecap="butt"/>
<line x1="919.72" y1="2221.1" x2="919.72" y2="2216.95" stroke="#6272b6" stroke-width="1" stroke-linecap="butt"/>
<line x1="921.59" y1="2221.1" x2="921.59" y2="2092.45" stroke="#6272b6" stroke-width="1" stroke-linecap="butt"/>
<line x1="922.53" y1="2221.1" x2="922.53" y2="2088.3" stroke="#6272b6" stroke-width="1" stroke-linecap="butt"/>
<line x1="923.46" y1="2221.1" x2="923.46" y2="2090.38" stroke="#6272b6" stroke-width="1" stroke-linecap="butt"/>
<line x1="936.57" y1="2221.1" x2="936.57" y2="2197.44" stroke="#6272b6" stroke-width="1" stroke-linecap="butt"/>
<line x1="938.45" y1="2221.1" x2="938.45" y2="2197.44" stroke="#6272b6" stroke-width="1" stroke-linecap="butt"/>
<line x1="942.19" y1="2221.1" x2="942.19" y2="2216.95" stroke="#6272b6" stroke-width="1" stroke-linecap="butt"/>
<line x1="945.94" y1="2221.1" x2="945.94" y2="2192.46" stroke="#6272b6" stroke-width="1" stroke-linecap="butt"/>
<line x1="951.56" y1="2221.1" x2="951.56" y2="2209.69" stroke="#6272b6" stroke-width="1" stroke-linecap="butt"/>
<line x1="953.43" y1="2221.1" x2="953.43" y2="2212.8" stroke="#6272b6" stroke-width="1" stroke-linecap="butt"/>
<line x1="962.8" y1="2221.1" x2="962.8" y2="2153.04" stroke="#6272b6" stroke-width="1" stroke-linecap="butt"/>
<line x1="979.65" y1="2221.1" x2="979.65" y2="2013.6" stroke="#6272b6" stroke-width="1" stroke-linecap="butt"/>
<line x1="768.7" y1="2195" x2="781" y2="2210.8" stroke="#e6907c" stroke-width="1" stroke-linecap="butt"/>
<line x1="769.6" y1="2175.6" x2="783.6" y2="2210.8" stroke="#e6907c" stroke-width="1" stroke-linecap="butt"/>
<line x1="783.6" y1="2182.6" x2="793.3" y2="2219.5" stroke="#e6907c" stroke-width="1" stroke-linecap="butt"/>
<line x1="796.8" y1="2200.2" x2="799.4" y2="2218.7" stroke="#e6907c" stroke-width="1" stroke-linecap="butt"/>
<line x1="814.9" y1="2184.4" x2="809.6" y2="2218.7" stroke="#e6907c" stroke-width="1" stroke-linecap="butt"/>
<line x1="903.5" y1="2080" x2="904.5" y2="2094" stroke="#e6907c" stroke-width="1" stroke-linecap="butt"/>
<line x1="923.5" y1="2077" x2="922.5" y2="2087" stroke="#e6907c" stroke-width="1" stroke-linecap="butt"/>
<line x1="937" y1="2188" x2="939" y2="2197" stroke="#e6907c" stroke-width="1" stroke-linecap="butt"/>
<line x1="951.5" y1="2174" x2="946.5" y2="2192" stroke="#e6907c" stroke-width="1" stroke-linecap="butt"/>
<line x1="737.1" y1="2013.1" x2="737.1" y2="2221.1" stroke="#333" stroke-width="1.2" stroke-linecap="butt"/>
<line x1="733.1" y1="2221.1" x2="737.1" y2="2221.1" stroke="#333" stroke-width="1.2" stroke-linecap="butt"/>
<text x="732.6" y="2226.1" font-size="13.8" text-anchor="end" fill="#1a1a1a" stroke="#1a1a1a" stroke-width="0.22">0</text>
<line x1="733.1" y1="2179.6" x2="737.1" y2="2179.6" stroke="#333" stroke-width="1.2" stroke-linecap="butt"/>
<text x="732.6" y="2184.6" font-size="13.8" text-anchor="end" fill="#1a1a1a" stroke="#1a1a1a" stroke-width="0.22">20</text>
<line x1="733.1" y1="2138.1" x2="737.1" y2="2138.1" stroke="#333" stroke-width="1.2" stroke-linecap="butt"/>
<text x="732.6" y="2143.1" font-size="13.8" text-anchor="end" fill="#1a1a1a" stroke="#1a1a1a" stroke-width="0.22">40</text>
<line x1="733.1" y1="2096.6" x2="737.1" y2="2096.6" stroke="#333" stroke-width="1.2" stroke-linecap="butt"/>
<text x="732.6" y="2101.6" font-size="13.8" text-anchor="end" fill="#1a1a1a" stroke="#1a1a1a" stroke-width="0.22">60</text>
<line x1="733.1" y1="2055.1" x2="737.1" y2="2055.1" stroke="#333" stroke-width="1.2" stroke-linecap="butt"/>
<text x="732.6" y="2060.1" font-size="13.8" text-anchor="end" fill="#1a1a1a" stroke="#1a1a1a" stroke-width="0.22">80</text>
<line x1="733.1" y1="2013.6" x2="737.1" y2="2013.6" stroke="#333" stroke-width="1.2" stroke-linecap="butt"/>
<text x="732.6" y="2018.6" font-size="13.8" text-anchor="end" fill="#1a1a1a" stroke="#1a1a1a" stroke-width="0.22">100</text>
<line x1="733.1" y1="2221.1" x2="1018.7" y2="2221.1" stroke="#333" stroke-width="1.2" stroke-linecap="butt"/>
<line x1="737.1" y1="2221.1" x2="737.1" y2="2225.1" stroke="#333" stroke-width="1.2" stroke-linecap="butt"/>
<text x="737.1" y="2239.6" font-size="13.8" text-anchor="middle" fill="#1a1a1a" stroke="#1a1a1a" stroke-width="0.22">100</text>
<line x1="774.56" y1="2221.1" x2="774.56" y2="2225.1" stroke="#333" stroke-width="1.2" stroke-linecap="butt"/>
<text x="774.56" y="2239.6" font-size="13.8" text-anchor="middle" fill="#1a1a1a" stroke="#1a1a1a" stroke-width="0.22">140</text>
<line x1="812.02" y1="2221.1" x2="812.02" y2="2225.1" stroke="#333" stroke-width="1.2" stroke-linecap="butt"/>
<text x="812.02" y="2239.6" font-size="13.8" text-anchor="middle" fill="#1a1a1a" stroke="#1a1a1a" stroke-width="0.22">180</text>
<line x1="849.48" y1="2221.1" x2="849.48" y2="2225.1" stroke="#333" stroke-width="1.2" stroke-linecap="butt"/>
<text x="849.48" y="2239.6" font-size="13.8" text-anchor="middle" fill="#1a1a1a" stroke="#1a1a1a" stroke-width="0.22">220</text>
<line x1="886.94" y1="2221.1" x2="886.94" y2="2225.1" stroke="#333" stroke-width="1.2" stroke-linecap="butt"/>
<text x="886.94" y="2239.6" font-size="13.8" text-anchor="middle" fill="#1a1a1a" stroke="#1a1a1a" stroke-width="0.22">260</text>
<line x1="924.4" y1="2221.1" x2="924.4" y2="2225.1" stroke="#333" stroke-width="1.2" stroke-linecap="butt"/>
<text x="924.4" y="2239.6" font-size="13.8" text-anchor="middle" fill="#1a1a1a" stroke="#1a1a1a" stroke-width="0.22">300</text>
<line x1="961.86" y1="2221.1" x2="961.86" y2="2225.1" stroke="#333" stroke-width="1.2" stroke-linecap="butt"/>
<text x="961.86" y="2239.6" font-size="13.8" text-anchor="middle" fill="#1a1a1a" stroke="#1a1a1a" stroke-width="0.22">340</text>
<line x1="999.32" y1="2221.1" x2="999.32" y2="2225.1" stroke="#333" stroke-width="1.2" stroke-linecap="butt"/>
<text x="999.32" y="2239.6" font-size="13.8" text-anchor="middle" fill="#1a1a1a" stroke="#1a1a1a" stroke-width="0.22">380</text>
<text x="979.3" y="2011.7" font-size="11.3" text-anchor="middle" fill="#1a1a1a" font-weight="bold">359</text>
<text x="897.6" y="2077.2" font-size="11.3" text-anchor="middle" fill="#1a1a1a" stroke="#1a1a1a" stroke-width="0.6">279</text>
<text x="926.3" y="2074.4" font-size="11.3" text-anchor="middle" fill="#1a1a1a" stroke="#1a1a1a" stroke-width="0.6">297</text>
<text x="962.5" y="2150.3" font-size="11.3" text-anchor="middle" fill="#1a1a1a" stroke="#1a1a1a" stroke-width="0.6">341</text>
<text x="951" y="2171.4" font-size="11.3" text-anchor="middle" fill="#1a1a1a" stroke="#1a1a1a" stroke-width="0.6">323</text>
<text x="935" y="2185.5" font-size="11.3" text-anchor="middle" fill="#1a1a1a" stroke="#1a1a1a" stroke-width="0.6">315</text>
<text x="761.9" y="2173" font-size="11.3" text-anchor="middle" fill="#1a1a1a" stroke="#1a1a1a" stroke-width="0.6">149</text>
<text x="761.3" y="2192.8" font-size="11.3" text-anchor="middle" fill="#1a1a1a" stroke="#1a1a1a" stroke-width="0.6">147</text>
<text x="784.5" y="2179.5" font-size="11.3" text-anchor="middle" fill="#1a1a1a" stroke="#1a1a1a" stroke-width="0.6">159</text>
<text x="798.7" y="2196.7" font-size="11.3" text-anchor="middle" fill="#1a1a1a" stroke="#1a1a1a" stroke-width="0.6">167</text>
<text x="814.8" y="2183" font-size="11.3" text-anchor="middle" fill="#1a1a1a" stroke="#1a1a1a" stroke-width="0.6">177</text>
<line x1="747.7" y1="2043" x2="964.6" y2="2043" stroke="#222" stroke-width="1.3" stroke-linecap="butt"/>
<path d="M739.7 2043 L748.7 2039.5 L748.7 2046.5 Z" fill="#222"/>
<path d="M972.6 2043 L963.6 2039.5 L963.6 2046.5 Z" fill="#222"/>
<text x="855" y="2057.5" font-size="11" text-anchor="middle" fill="#1a1a1a" stroke="#1a1a1a" stroke-width="0.22">2x</text>
<text x="700.5" y="2117" font-size="13.6" text-anchor="middle" fill="#1a1a1a" stroke="#1a1a1a" stroke-width="0.22" transform="rotate(-90 700.5 2117)">Relative intesity (%)</text>
<text x="877.5" y="2258.5" font-size="13.8" text-anchor="middle" fill="#1a1a1a" stroke="#1a1a1a" stroke-width="0.22">m/z (Da)</text>
</svg>
</body></html>
